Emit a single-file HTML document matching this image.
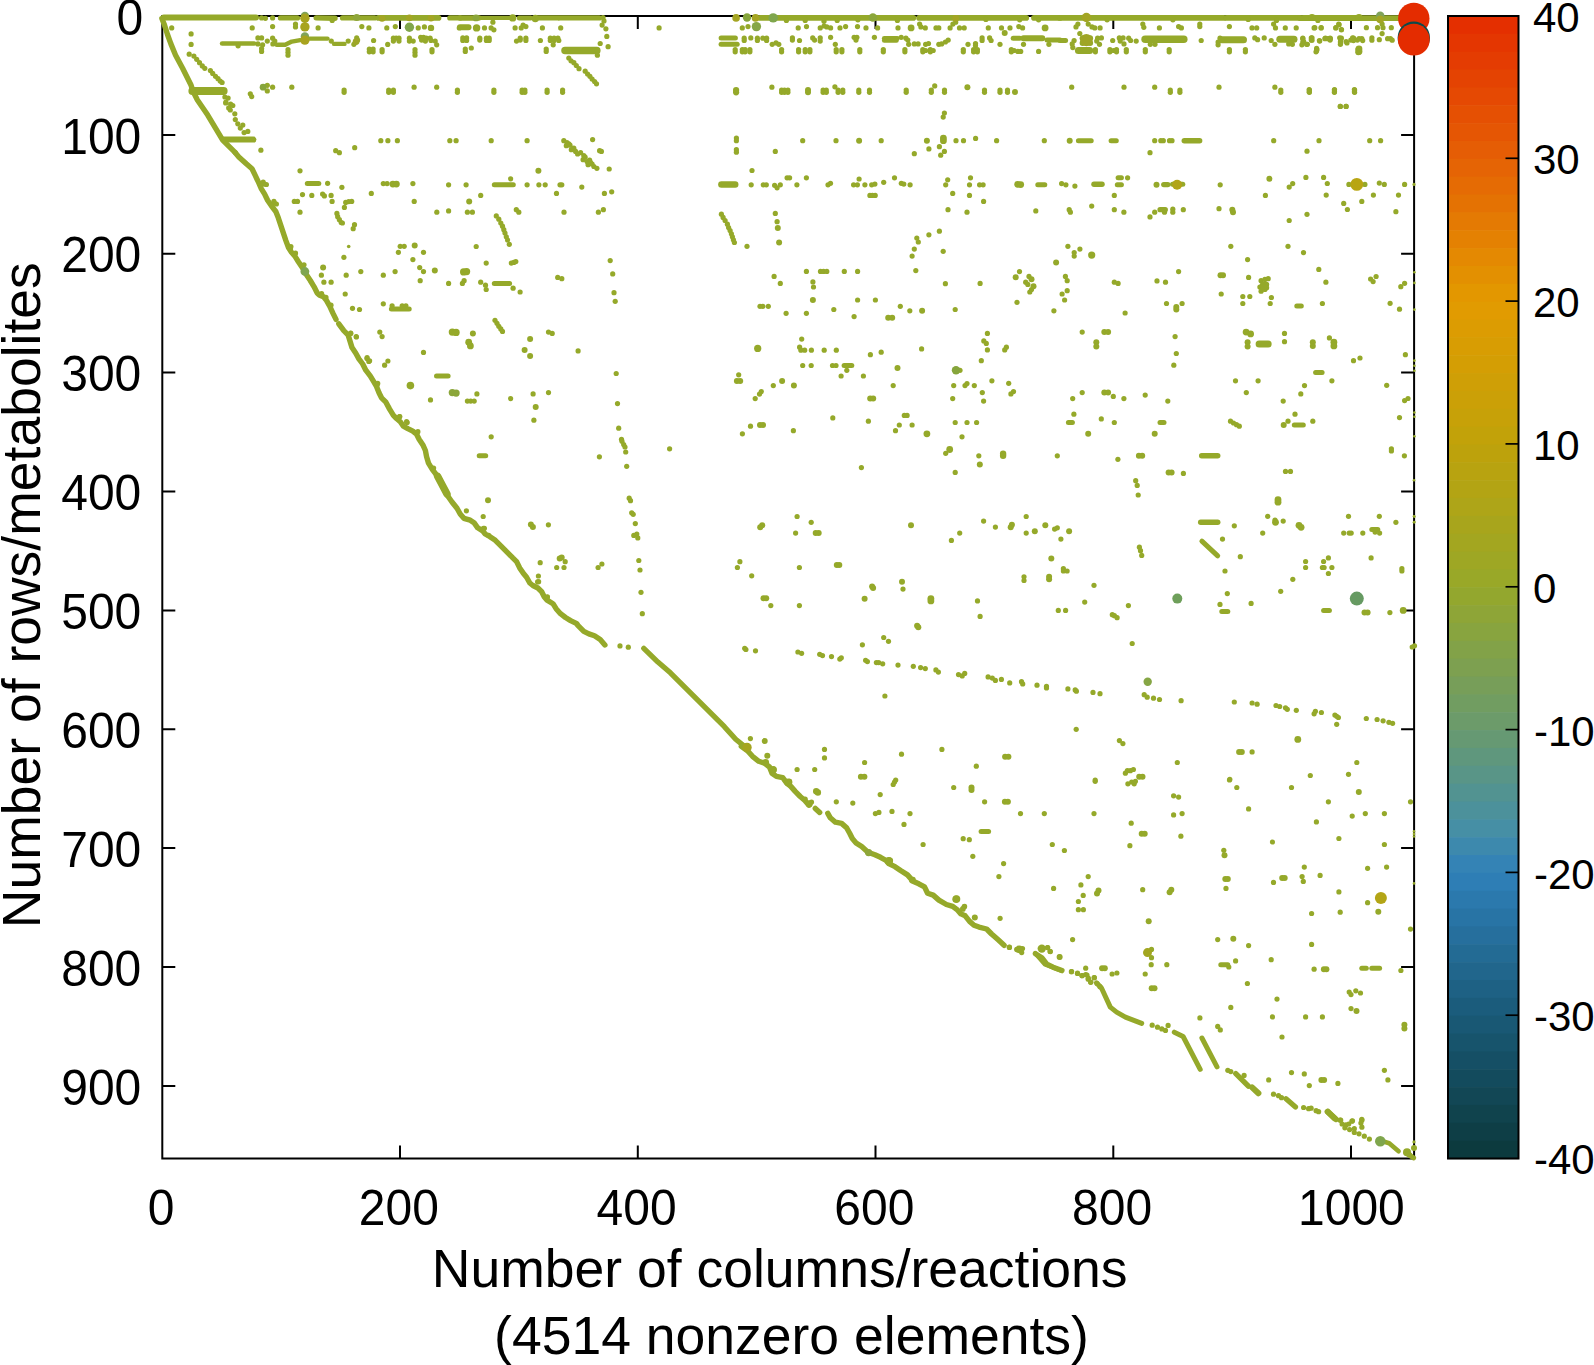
<!DOCTYPE html>
<html><head><meta charset="utf-8"><title>Sparsity pattern</title>
<style>html,body{margin:0;padding:0;background:#fff}svg{display:block}</style>
</head><body>
<svg width="1594" height="1365" viewBox="0 0 1594 1365" font-family="'Liberation Sans', sans-serif" fill="#000">
<rect width="1594" height="1365" fill="#fff"/>
<g stroke="#000" stroke-width="2" fill="none" stroke-linecap="square">
<rect x="162.3" y="16.0" width="1251.8" height="1142.5"/>
</g>
<g stroke="#000" stroke-width="2" fill="none">
<path d="M162.3 134.9h13M1414.1 134.9h-13"/>
<path d="M162.3 253.8h13M1414.1 253.8h-13"/>
<path d="M162.3 372.6h13M1414.1 372.6h-13"/>
<path d="M162.3 491.5h13M1414.1 491.5h-13"/>
<path d="M162.3 610.4h13M1414.1 610.4h-13"/>
<path d="M162.3 729.2h13M1414.1 729.2h-13"/>
<path d="M162.3 848.1h13M1414.1 848.1h-13"/>
<path d="M162.3 967.0h13M1414.1 967.0h-13"/>
<path d="M162.3 1085.9h13M1414.1 1085.9h-13"/>
<path d="M400.0 1158.5v-13M400.0 16.0v13"/>
<path d="M637.8 1158.5v-13M637.8 16.0v13"/>
<path d="M875.5 1158.5v-13M875.5 16.0v13"/>
<path d="M1113.3 1158.5v-13M1113.3 16.0v13"/>
<path d="M1351.0 1158.5v-13M1351.0 16.0v13"/>
</g>
<g font-size="48" text-anchor="end">
<text transform="translate(143.3 34.6) scale(1 1.035)">0</text>
<text transform="translate(141.3 153.5) scale(1 1.035)">100</text>
<text transform="translate(141.3 272.4) scale(1 1.035)">200</text>
<text transform="translate(141.3 391.2) scale(1 1.035)">300</text>
<text transform="translate(141.3 510.1) scale(1 1.035)">400</text>
<text transform="translate(141.3 629.0) scale(1 1.035)">500</text>
<text transform="translate(141.3 747.9) scale(1 1.035)">600</text>
<text transform="translate(141.3 866.7) scale(1 1.035)">700</text>
<text transform="translate(141.3 985.6) scale(1 1.035)">800</text>
<text transform="translate(141.3 1104.5) scale(1 1.035)">900</text>
</g>
<g font-size="48" text-anchor="middle">
<text transform="translate(161.1 1224.6) scale(1 1.035)">0</text>
<text transform="translate(398.8 1224.6) scale(1 1.035)">200</text>
<text transform="translate(636.6 1224.6) scale(1 1.035)">400</text>
<text transform="translate(874.3 1224.6) scale(1 1.035)">600</text>
<text transform="translate(1112.1 1224.6) scale(1 1.035)">800</text>
<text transform="translate(1351.4 1224.6) scale(1 1.035)">1000</text>
</g>
<g font-size="53.5" text-anchor="middle">
<text x="779.7" y="1287">Number of columns/reactions</text>
<text x="791.5" y="1353.5">(4514 nonzero elements)</text>
<text transform="translate(40 595.2) rotate(-90)">Number of rows/metabolites</text>
</g>
<rect x="1448.0" y="16.00" width="70.5" height="18.45" fill="#e42f00"/>
<rect x="1448.0" y="33.85" width="70.5" height="18.45" fill="#e43601"/>
<rect x="1448.0" y="51.70" width="70.5" height="18.45" fill="#e43c02"/>
<rect x="1448.0" y="69.55" width="70.5" height="18.45" fill="#e44302"/>
<rect x="1448.0" y="87.41" width="70.5" height="18.45" fill="#e54903"/>
<rect x="1448.0" y="105.26" width="70.5" height="18.45" fill="#e55003"/>
<rect x="1448.0" y="123.11" width="70.5" height="18.45" fill="#e55604"/>
<rect x="1448.0" y="140.96" width="70.5" height="18.45" fill="#e55d05"/>
<rect x="1448.0" y="158.81" width="70.5" height="18.45" fill="#e56405"/>
<rect x="1448.0" y="176.66" width="70.5" height="18.45" fill="#e56b04"/>
<rect x="1448.0" y="194.52" width="70.5" height="18.45" fill="#e47203"/>
<rect x="1448.0" y="212.37" width="70.5" height="18.45" fill="#e47a03"/>
<rect x="1448.0" y="230.22" width="70.5" height="18.45" fill="#e48102"/>
<rect x="1448.0" y="248.07" width="70.5" height="18.45" fill="#e48902"/>
<rect x="1448.0" y="265.92" width="70.5" height="18.45" fill="#e39001"/>
<rect x="1448.0" y="283.77" width="70.5" height="18.45" fill="#e39700"/>
<rect x="1448.0" y="301.62" width="70.5" height="18.45" fill="#e19b01"/>
<rect x="1448.0" y="319.48" width="70.5" height="18.45" fill="#dc9c02"/>
<rect x="1448.0" y="337.33" width="70.5" height="18.45" fill="#d89d03"/>
<rect x="1448.0" y="355.18" width="70.5" height="18.45" fill="#d49e04"/>
<rect x="1448.0" y="373.03" width="70.5" height="18.45" fill="#cf9f06"/>
<rect x="1448.0" y="390.88" width="70.5" height="18.45" fill="#cba007"/>
<rect x="1448.0" y="408.73" width="70.5" height="18.45" fill="#c7a108"/>
<rect x="1448.0" y="426.59" width="70.5" height="18.45" fill="#c2a209"/>
<rect x="1448.0" y="444.44" width="70.5" height="18.45" fill="#bda20c"/>
<rect x="1448.0" y="462.29" width="70.5" height="18.45" fill="#b8a310"/>
<rect x="1448.0" y="480.14" width="70.5" height="18.45" fill="#b3a414"/>
<rect x="1448.0" y="497.99" width="70.5" height="18.45" fill="#aea518"/>
<rect x="1448.0" y="515.84" width="70.5" height="18.45" fill="#a8a51c"/>
<rect x="1448.0" y="533.70" width="70.5" height="18.45" fill="#a3a620"/>
<rect x="1448.0" y="551.55" width="70.5" height="18.45" fill="#9ea724"/>
<rect x="1448.0" y="569.40" width="70.5" height="18.45" fill="#99a828"/>
<rect x="1448.0" y="587.25" width="70.5" height="18.45" fill="#93a72e"/>
<rect x="1448.0" y="605.10" width="70.5" height="18.45" fill="#8ea537"/>
<rect x="1448.0" y="622.95" width="70.5" height="18.45" fill="#88a43f"/>
<rect x="1448.0" y="640.80" width="70.5" height="18.45" fill="#82a248"/>
<rect x="1448.0" y="658.66" width="70.5" height="18.45" fill="#7da050"/>
<rect x="1448.0" y="676.51" width="70.5" height="18.45" fill="#779e59"/>
<rect x="1448.0" y="694.36" width="70.5" height="18.45" fill="#719d61"/>
<rect x="1448.0" y="712.21" width="70.5" height="18.45" fill="#6c9b6a"/>
<rect x="1448.0" y="730.06" width="70.5" height="18.45" fill="#669973"/>
<rect x="1448.0" y="747.91" width="70.5" height="18.45" fill="#5f977d"/>
<rect x="1448.0" y="765.77" width="70.5" height="18.45" fill="#599587"/>
<rect x="1448.0" y="783.62" width="70.5" height="18.45" fill="#529391"/>
<rect x="1448.0" y="801.47" width="70.5" height="18.45" fill="#4c919b"/>
<rect x="1448.0" y="819.32" width="70.5" height="18.45" fill="#468fa5"/>
<rect x="1448.0" y="837.17" width="70.5" height="18.45" fill="#3d89ad"/>
<rect x="1448.0" y="855.02" width="70.5" height="18.45" fill="#3483b5"/>
<rect x="1448.0" y="872.88" width="70.5" height="18.45" fill="#2e7eb5"/>
<rect x="1448.0" y="890.73" width="70.5" height="18.45" fill="#2b79ad"/>
<rect x="1448.0" y="908.58" width="70.5" height="18.45" fill="#2874a5"/>
<rect x="1448.0" y="926.43" width="70.5" height="18.45" fill="#266f9d"/>
<rect x="1448.0" y="944.28" width="70.5" height="18.45" fill="#236b94"/>
<rect x="1448.0" y="962.13" width="70.5" height="18.45" fill="#21668c"/>
<rect x="1448.0" y="979.98" width="70.5" height="18.45" fill="#1e6184"/>
<rect x="1448.0" y="997.84" width="70.5" height="18.45" fill="#1b5c7c"/>
<rect x="1448.0" y="1015.69" width="70.5" height="18.45" fill="#195874"/>
<rect x="1448.0" y="1033.54" width="70.5" height="18.45" fill="#17546c"/>
<rect x="1448.0" y="1051.39" width="70.5" height="18.45" fill="#154f65"/>
<rect x="1448.0" y="1069.24" width="70.5" height="18.45" fill="#134b5d"/>
<rect x="1448.0" y="1087.09" width="70.5" height="18.45" fill="#124755"/>
<rect x="1448.0" y="1104.95" width="70.5" height="18.45" fill="#10434d"/>
<rect x="1448.0" y="1122.80" width="70.5" height="18.45" fill="#0e3e46"/>
<rect x="1448.0" y="1140.65" width="70.5" height="18.45" fill="#0c3a3e"/>
<rect x="1448.0" y="16.0" width="70.5" height="1142.5" fill="none" stroke="#000" stroke-width="2"/>
<g stroke="#000" stroke-width="1.7">
<path d="M1518.5 158.3h-13"/>
<path d="M1518.5 301.1h-13"/>
<path d="M1518.5 443.9h-13"/>
<path d="M1518.5 586.8h-13"/>
<path d="M1518.5 729.6h-13"/>
<path d="M1518.5 872.4h-13"/>
<path d="M1518.5 1015.2h-13"/>
</g>
<g font-size="42">
<text transform="translate(1533 31.6) scale(1 1.03)">40</text>
<text transform="translate(1533 174.4) scale(1 1.03)">30</text>
<text transform="translate(1533 317.2) scale(1 1.03)">20</text>
<text transform="translate(1533 460.0) scale(1 1.03)">10</text>
<text transform="translate(1533 602.9) scale(1 1.03)">0</text>
<text transform="translate(1534 745.7) scale(1 1.03)">-10</text>
<text transform="translate(1534 888.5) scale(1 1.03)">-20</text>
<text transform="translate(1534 1031.3) scale(1 1.03)">-30</text>
<text transform="translate(1534 1174.1) scale(1 1.03)">-40</text>
</g>
<g id="dots" fill="#95a92a">
<path d="M161.9 18.5L164.5 25.1L167.5 34.5L170.9 43.9L175.6 55.2L182.6 68.3L191.1 85.3L192.9 90.9" fill="none" stroke="#95a92a" stroke-width="5.4" stroke-linecap="round" stroke-linejoin="round"/>
<path d="M163.8 17.5L256.0 17.5" fill="none" stroke="#95a92a" stroke-width="6" stroke-linecap="round" stroke-linejoin="round"/>
<circle cx="261.6" cy="17.9" r="2.6"/>
<circle cx="265.4" cy="18.3" r="2.6"/>
<circle cx="272.6" cy="17.9" r="2.6"/>
<path d="M280.5 17.9L297.4 17.9" fill="none" stroke="#95a92a" stroke-width="5.4" stroke-linecap="round" stroke-linejoin="round"/>
<path d="M316.2 17.9L335.0 18.3" fill="none" stroke="#95a92a" stroke-width="5.4" stroke-linecap="round" stroke-linejoin="round"/>
<circle cx="332.2" cy="20.4" r="2.6"/>
<path d="M342.6 17.9L374.6 17.9" fill="none" stroke="#95a92a" stroke-width="5.4" stroke-linecap="round" stroke-linejoin="round"/>
<path d="M378.3 17.9L438.6 17.9" fill="none" stroke="#95a92a" stroke-width="5.6" stroke-linecap="round" stroke-linejoin="round"/>
<path d="M449.9 17.9L460.0 17.9" fill="none" stroke="#95a92a" stroke-width="5.4" stroke-linecap="round" stroke-linejoin="round"/>
<circle cx="171.7" cy="27.9" r="2.6"/>
<circle cx="252.2" cy="27.9" r="2.6"/>
<circle cx="272.6" cy="26.6" r="2.6"/>
<circle cx="318.1" cy="27.9" r="2.6"/>
<circle cx="361.8" cy="26.6" r="2.6"/>
<circle cx="368.9" cy="27.9" r="2.6"/>
<circle cx="386.8" cy="27.9" r="2.6"/>
<circle cx="395.3" cy="26.6" r="2.6"/>
<circle cx="418.2" cy="27.9" r="2.6"/>
<circle cx="424.4" cy="26.9" r="2.6"/>
<circle cx="459.3" cy="27.9" r="2.6"/>
<circle cx="295.5" cy="24.1" r="2.6"/>
<circle cx="295.5" cy="26.9" r="2.6"/>
<circle cx="305.9" cy="27.9" r="2.6"/>
<circle cx="431.0" cy="27.9" r="3.2"/>
<circle cx="191.1" cy="33.9" r="2.6"/>
<circle cx="191.1" cy="44.4" r="2.6"/>
<circle cx="189.2" cy="54.2" r="2.6"/>
<circle cx="193.9" cy="56.1" r="2.6"/>
<circle cx="196.7" cy="59.3" r="2.6"/>
<circle cx="199.5" cy="62.7" r="2.6"/>
<circle cx="202.3" cy="65.9" r="2.6"/>
<circle cx="204.8" cy="68.3" r="2.6"/>
<circle cx="210.4" cy="70.6" r="2.6"/>
<circle cx="212.7" cy="73.4" r="2.6"/>
<circle cx="215.5" cy="76.3" r="2.6"/>
<circle cx="218.0" cy="78.7" r="2.6"/>
<circle cx="220.2" cy="81.1" r="2.6"/>
<circle cx="222.1" cy="82.5" r="2.6"/>
<path d="M222.1 43.5L254.1 43.5" fill="none" stroke="#95a92a" stroke-width="4.6" stroke-linecap="round" stroke-linejoin="round"/>
<circle cx="238.1" cy="45.8" r="2.6"/>
<circle cx="257.9" cy="37.9" r="2.6"/>
<circle cx="261.6" cy="37.9" r="2.6"/>
<circle cx="257.9" cy="43.9" r="2.6"/>
<circle cx="262.6" cy="44.8" r="2.6"/>
<circle cx="267.3" cy="41.1" r="2.6"/>
<circle cx="272.6" cy="38.2" r="2.6"/>
<circle cx="272.9" cy="43.9" r="2.6"/>
<circle cx="274.8" cy="41.1" r="2.6"/>
<path d="M276.7 44.8L285.2 44.8L291.8 41.6L300.2 40.1" fill="none" stroke="#95a92a" stroke-width="4.4" stroke-linecap="round" stroke-linejoin="round"/>
<path d="M309.6 38.6L327.5 38.6" fill="none" stroke="#95a92a" stroke-width="4.4" stroke-linecap="round" stroke-linejoin="round"/>
<circle cx="331.3" cy="41.1" r="2.6"/>
<circle cx="348.2" cy="41.1" r="2.6"/>
<circle cx="353.9" cy="44.3" r="2.6"/>
<circle cx="356.7" cy="37.9" r="2.6"/>
<circle cx="357.6" cy="40.1" r="2.6"/>
<path d="M334.1 43.9L344.5 43.9" fill="none" stroke="#95a92a" stroke-width="4.4" stroke-linecap="round" stroke-linejoin="round"/>
<circle cx="373.6" cy="40.5" r="2.6"/>
<circle cx="387.7" cy="44.4" r="2.6"/>
<circle cx="393.4" cy="38.2" r="2.6"/>
<circle cx="396.2" cy="38.2" r="2.6"/>
<circle cx="399.0" cy="38.2" r="2.6"/>
<circle cx="393.4" cy="41.1" r="2.6"/>
<circle cx="399.0" cy="41.1" r="2.6"/>
<circle cx="409.4" cy="38.2" r="2.6"/>
<circle cx="409.4" cy="41.1" r="2.6"/>
<circle cx="413.2" cy="41.1" r="2.6"/>
<circle cx="420.7" cy="37.3" r="2.6"/>
<circle cx="423.5" cy="37.3" r="2.6"/>
<circle cx="426.3" cy="38.2" r="2.6"/>
<circle cx="421.6" cy="40.1" r="2.6"/>
<circle cx="425.4" cy="41.1" r="2.6"/>
<circle cx="430.1" cy="38.2" r="2.6"/>
<circle cx="431.0" cy="40.5" r="2.6"/>
<circle cx="435.2" cy="41.1" r="2.6"/>
<circle cx="436.7" cy="44.8" r="2.6"/>
<circle cx="261.6" cy="48.6" r="2.6"/>
<circle cx="261.6" cy="51.4" r="2.6"/>
<circle cx="288.0" cy="49.5" r="2.6"/>
<circle cx="288.0" cy="52.3" r="2.6"/>
<circle cx="288.0" cy="55.2" r="2.6"/>
<circle cx="369.3" cy="49.1" r="2.6"/>
<circle cx="373.1" cy="49.1" r="2.6"/>
<circle cx="369.3" cy="51.8" r="2.6"/>
<circle cx="373.1" cy="51.8" r="2.6"/>
<circle cx="382.1" cy="49.5" r="2.6"/>
<circle cx="382.1" cy="51.8" r="2.6"/>
<circle cx="415.0" cy="49.5" r="2.6"/>
<circle cx="415.0" cy="52.3" r="2.6"/>
<circle cx="415.0" cy="55.2" r="2.6"/>
<circle cx="432.0" cy="49.5" r="2.6"/>
<circle cx="432.0" cy="51.8" r="2.6"/>
<circle cx="250.3" cy="93.8" r="2.6"/>
<circle cx="251.7" cy="96.6" r="2.6"/>
<circle cx="267.3" cy="85.3" r="2.6"/>
<circle cx="267.3" cy="90.9" r="2.6"/>
<circle cx="272.6" cy="87.2" r="2.6"/>
<circle cx="291.8" cy="87.2" r="2.6"/>
<circle cx="344.1" cy="90.0" r="2.6"/>
<circle cx="344.1" cy="92.3" r="2.6"/>
<circle cx="388.7" cy="90.0" r="2.6"/>
<circle cx="388.7" cy="92.3" r="2.6"/>
<circle cx="393.4" cy="90.0" r="2.6"/>
<circle cx="393.4" cy="92.3" r="2.6"/>
<circle cx="414.1" cy="87.2" r="2.6"/>
<circle cx="436.7" cy="87.2" r="2.6"/>
<circle cx="457.4" cy="90.0" r="2.6"/>
<circle cx="457.4" cy="92.3" r="2.6"/>
<path d="M192.4 90.9L223.6 90.9" fill="none" stroke="#95a92a" stroke-width="8" stroke-linecap="round" stroke-linejoin="round"/>
<path d="M460.0 17.9L478.8 17.9" fill="none" stroke="#95a92a" stroke-width="5.5" stroke-linecap="round" stroke-linejoin="round"/>
<path d="M478.8 17.9L510.8 17.9" fill="none" stroke="#95a92a" stroke-width="4.2" stroke-linecap="round" stroke-linejoin="round"/>
<circle cx="492.9" cy="22.2" r="2.6"/>
<circle cx="512.7" cy="17.9" r="3.7"/>
<circle cx="535.3" cy="18.5" r="3.7"/>
<path d="M519.3 17.9L530.6 17.9" fill="none" stroke="#95a92a" stroke-width="5" stroke-linecap="round" stroke-linejoin="round"/>
<path d="M538.1 17.9L557.9 17.9" fill="none" stroke="#95a92a" stroke-width="5.2" stroke-linecap="round" stroke-linejoin="round"/>
<path d="M559.8 17.9L599.3 17.9" fill="none" stroke="#95a92a" stroke-width="5.2" stroke-linecap="round" stroke-linejoin="round"/>
<circle cx="603.0" cy="17.5" r="2.6"/>
<circle cx="604.0" cy="20.9" r="2.6"/>
<circle cx="602.1" cy="25.1" r="2.6"/>
<circle cx="605.9" cy="28.8" r="2.6"/>
<circle cx="606.8" cy="36.4" r="2.6"/>
<circle cx="600.2" cy="43.5" r="2.6"/>
<circle cx="608.1" cy="46.7" r="2.6"/>
<path d="M460.0 27.3L468.5 27.3" fill="none" stroke="#95a92a" stroke-width="6" stroke-linecap="round" stroke-linejoin="round"/>
<circle cx="476.6" cy="27.9" r="3.7"/>
<circle cx="484.5" cy="27.9" r="2.6"/>
<circle cx="491.1" cy="27.9" r="2.6"/>
<circle cx="493.9" cy="29.8" r="2.6"/>
<circle cx="515.1" cy="27.9" r="2.6"/>
<circle cx="521.2" cy="27.9" r="2.6"/>
<circle cx="523.1" cy="25.1" r="2.6"/>
<circle cx="525.9" cy="26.6" r="2.6"/>
<circle cx="542.4" cy="27.9" r="2.6"/>
<circle cx="560.7" cy="27.9" r="2.6"/>
<circle cx="659.1" cy="27.9" r="2.6"/>
<circle cx="462.8" cy="37.9" r="2.6"/>
<circle cx="466.6" cy="37.9" r="2.6"/>
<circle cx="462.8" cy="40.5" r="2.6"/>
<circle cx="466.6" cy="40.5" r="2.6"/>
<circle cx="479.8" cy="38.2" r="2.6"/>
<circle cx="479.8" cy="40.1" r="2.6"/>
<circle cx="486.4" cy="38.2" r="2.6"/>
<circle cx="489.2" cy="38.2" r="2.6"/>
<circle cx="486.4" cy="40.5" r="2.6"/>
<circle cx="489.2" cy="40.5" r="2.6"/>
<circle cx="516.5" cy="41.1" r="2.6"/>
<circle cx="520.2" cy="38.2" r="2.6"/>
<circle cx="520.2" cy="40.1" r="2.6"/>
<circle cx="525.9" cy="38.2" r="2.6"/>
<circle cx="525.9" cy="40.5" r="2.6"/>
<circle cx="540.4" cy="40.5" r="2.6"/>
<circle cx="550.3" cy="38.2" r="2.6"/>
<circle cx="554.1" cy="38.2" r="2.6"/>
<circle cx="557.9" cy="38.2" r="2.6"/>
<circle cx="550.3" cy="40.5" r="2.6"/>
<circle cx="554.1" cy="40.5" r="2.6"/>
<circle cx="558.8" cy="40.5" r="2.6"/>
<circle cx="553.2" cy="44.8" r="2.6"/>
<circle cx="465.3" cy="49.1" r="2.6"/>
<circle cx="465.3" cy="51.4" r="2.6"/>
<circle cx="471.3" cy="48.0" r="2.6"/>
<circle cx="546.2" cy="49.1" r="2.6"/>
<circle cx="546.2" cy="51.4" r="2.6"/>
<path d="M565.0 50.5L596.8 50.5" fill="none" stroke="#95a92a" stroke-width="7.5" stroke-linecap="round" stroke-linejoin="round"/>
<circle cx="597.4" cy="55.2" r="2.6"/>
<circle cx="568.8" cy="58.0" r="2.6"/>
<circle cx="571.0" cy="60.8" r="2.6"/>
<circle cx="573.9" cy="62.7" r="2.6"/>
<circle cx="576.3" cy="65.5" r="2.6"/>
<circle cx="579.0" cy="68.7" r="2.6"/>
<circle cx="585.2" cy="71.2" r="2.6"/>
<circle cx="587.6" cy="74.0" r="2.6"/>
<circle cx="589.9" cy="76.3" r="2.6"/>
<circle cx="592.1" cy="79.1" r="2.6"/>
<circle cx="594.6" cy="81.5" r="2.6"/>
<circle cx="596.5" cy="83.8" r="2.6"/>
<circle cx="493.9" cy="90.0" r="2.6"/>
<circle cx="493.9" cy="92.3" r="2.6"/>
<circle cx="522.1" cy="90.0" r="2.6"/>
<circle cx="524.9" cy="90.0" r="2.6"/>
<circle cx="522.1" cy="92.3" r="2.6"/>
<circle cx="524.9" cy="92.3" r="2.6"/>
<circle cx="547.1" cy="90.0" r="2.6"/>
<circle cx="547.1" cy="92.3" r="2.6"/>
<circle cx="562.6" cy="90.0" r="2.6"/>
<circle cx="562.6" cy="92.3" r="2.6"/>
<circle cx="736.1" cy="90.0" r="3.1"/>
<circle cx="736.1" cy="92.3" r="3.1"/>
<circle cx="742.3" cy="27.9" r="2.6"/>
<circle cx="748.0" cy="26.6" r="2.6"/>
<circle cx="757.4" cy="26.9" r="2.6"/>
<path d="M721.1 37.9L735.4 37.9" fill="none" stroke="#95a92a" stroke-width="5" stroke-linecap="round" stroke-linejoin="round"/>
<path d="M721.1 44.3L737.2 44.3" fill="none" stroke="#95a92a" stroke-width="5" stroke-linecap="round" stroke-linejoin="round"/>
<circle cx="744.2" cy="38.2" r="2.6"/>
<circle cx="744.2" cy="40.5" r="2.6"/>
<circle cx="750.8" cy="37.9" r="2.6"/>
<circle cx="757.4" cy="38.2" r="2.6"/>
<circle cx="757.4" cy="40.5" r="2.6"/>
<circle cx="735.2" cy="49.5" r="2.6"/>
<circle cx="735.2" cy="51.8" r="2.6"/>
<circle cx="742.3" cy="49.5" r="2.6"/>
<circle cx="742.3" cy="51.8" r="2.6"/>
<circle cx="745.1" cy="49.5" r="2.6"/>
<circle cx="745.1" cy="51.8" r="2.6"/>
<circle cx="749.9" cy="49.5" r="2.6"/>
<circle cx="749.9" cy="51.8" r="2.6"/>
<path d="M760.0 17.9L913.4 17.9" fill="none" stroke="#95a92a" stroke-width="5.6" stroke-linecap="round" stroke-linejoin="round"/>
<path d="M919.0 17.9L1026.3 17.9" fill="none" stroke="#95a92a" stroke-width="5.6" stroke-linecap="round" stroke-linejoin="round"/>
<path d="M1033.9 17.9L1060.0 17.9" fill="none" stroke="#95a92a" stroke-width="5.6" stroke-linecap="round" stroke-linejoin="round"/>
<circle cx="786.4" cy="20.4" r="2.6"/>
<circle cx="805.2" cy="20.4" r="2.6"/>
<circle cx="824.0" cy="21.3" r="2.6"/>
<circle cx="837.2" cy="20.4" r="2.6"/>
<circle cx="857.9" cy="19.8" r="2.6"/>
<circle cx="897.4" cy="20.4" r="2.6"/>
<circle cx="985.9" cy="19.4" r="2.6"/>
<circle cx="1019.7" cy="19.8" r="2.6"/>
<circle cx="1038.6" cy="19.8" r="2.6"/>
<circle cx="798.2" cy="27.9" r="2.6"/>
<circle cx="806.5" cy="26.6" r="2.6"/>
<circle cx="820.2" cy="27.9" r="2.6"/>
<circle cx="824.0" cy="26.0" r="2.6"/>
<circle cx="826.8" cy="26.9" r="2.6"/>
<circle cx="830.6" cy="27.9" r="2.6"/>
<circle cx="840.0" cy="27.9" r="2.6"/>
<circle cx="845.6" cy="26.6" r="2.6"/>
<circle cx="857.5" cy="26.6" r="2.6"/>
<circle cx="866.0" cy="27.9" r="2.6"/>
<circle cx="877.6" cy="27.9" r="2.6"/>
<circle cx="898.0" cy="27.9" r="2.6"/>
<circle cx="919.6" cy="24.1" r="2.6"/>
<circle cx="920.9" cy="26.9" r="2.6"/>
<circle cx="925.3" cy="27.9" r="2.6"/>
<circle cx="936.0" cy="27.9" r="2.6"/>
<circle cx="938.8" cy="27.9" r="2.6"/>
<circle cx="950.1" cy="27.9" r="2.6"/>
<circle cx="952.9" cy="24.1" r="2.6"/>
<circle cx="955.7" cy="22.2" r="2.6"/>
<circle cx="959.5" cy="27.9" r="2.6"/>
<circle cx="964.2" cy="27.9" r="2.6"/>
<circle cx="988.3" cy="27.9" r="2.6"/>
<circle cx="1001.5" cy="27.9" r="2.6"/>
<circle cx="1010.0" cy="27.9" r="2.6"/>
<circle cx="1018.8" cy="26.6" r="2.6"/>
<circle cx="1022.6" cy="27.9" r="2.6"/>
<circle cx="911.1" cy="27.9" r="3.4"/>
<circle cx="1045.1" cy="27.9" r="3.4"/>
<circle cx="1004.7" cy="33.0" r="3"/>
<circle cx="762.8" cy="38.2" r="2.6"/>
<circle cx="766.6" cy="38.2" r="2.6"/>
<circle cx="766.6" cy="40.5" r="2.6"/>
<circle cx="772.2" cy="44.3" r="2.6"/>
<circle cx="776.0" cy="42.9" r="2.6"/>
<circle cx="778.8" cy="44.3" r="2.6"/>
<circle cx="781.6" cy="49.5" r="2.6"/>
<circle cx="781.6" cy="51.8" r="2.6"/>
<circle cx="792.4" cy="37.9" r="2.6"/>
<circle cx="792.4" cy="40.1" r="2.6"/>
<circle cx="799.5" cy="40.5" r="2.6"/>
<circle cx="812.7" cy="37.9" r="2.6"/>
<circle cx="814.6" cy="40.1" r="2.6"/>
<circle cx="820.2" cy="37.9" r="2.6"/>
<circle cx="820.2" cy="41.1" r="2.6"/>
<circle cx="830.6" cy="37.3" r="2.6"/>
<circle cx="835.3" cy="44.3" r="2.6"/>
<circle cx="854.1" cy="37.3" r="2.6"/>
<circle cx="856.9" cy="37.3" r="2.6"/>
<circle cx="856.0" cy="40.1" r="2.6"/>
<circle cx="874.4" cy="37.3" r="2.6"/>
<path d="M884.2 38.2L897.4 38.2" fill="none" stroke="#95a92a" stroke-width="4.6" stroke-linecap="round" stroke-linejoin="round"/>
<path d="M884.2 40.5L896.5 40.5" fill="none" stroke="#95a92a" stroke-width="4.6" stroke-linecap="round" stroke-linejoin="round"/>
<circle cx="901.2" cy="37.3" r="2.6"/>
<circle cx="905.9" cy="38.2" r="2.6"/>
<circle cx="907.8" cy="40.1" r="2.6"/>
<circle cx="908.7" cy="44.3" r="2.6"/>
<circle cx="914.3" cy="43.9" r="2.6"/>
<circle cx="918.1" cy="43.9" r="2.6"/>
<circle cx="925.6" cy="44.3" r="2.6"/>
<circle cx="928.5" cy="43.5" r="2.6"/>
<circle cx="938.8" cy="44.3" r="2.6"/>
<circle cx="941.6" cy="43.9" r="2.6"/>
<circle cx="945.4" cy="42.0" r="2.6"/>
<circle cx="948.2" cy="40.1" r="2.6"/>
<circle cx="968.0" cy="44.3" r="2.6"/>
<circle cx="975.5" cy="43.5" r="2.6"/>
<circle cx="975.5" cy="45.4" r="2.6"/>
<circle cx="982.1" cy="37.9" r="2.6"/>
<circle cx="982.1" cy="40.5" r="2.6"/>
<circle cx="989.6" cy="37.9" r="2.6"/>
<circle cx="991.1" cy="40.5" r="2.6"/>
<circle cx="1000.0" cy="44.3" r="2.6"/>
<circle cx="1023.5" cy="44.3" r="2.6"/>
<circle cx="1048.9" cy="44.3" r="2.6"/>
<path d="M1013.2 38.2L1019.7 38.2" fill="none" stroke="#95a92a" stroke-width="5" stroke-linecap="round" stroke-linejoin="round"/>
<path d="M1023.5 38.2L1042.3 38.2" fill="none" stroke="#95a92a" stroke-width="6" stroke-linecap="round" stroke-linejoin="round"/>
<path d="M1047.0 40.1L1060.0 40.1" fill="none" stroke="#95a92a" stroke-width="5" stroke-linecap="round" stroke-linejoin="round"/>
<circle cx="798.6" cy="49.5" r="2.6"/>
<circle cx="798.6" cy="51.8" r="2.6"/>
<circle cx="805.2" cy="49.5" r="2.6"/>
<circle cx="805.2" cy="51.8" r="2.6"/>
<circle cx="809.9" cy="49.5" r="2.6"/>
<circle cx="809.9" cy="51.8" r="2.6"/>
<circle cx="836.2" cy="49.5" r="2.6"/>
<circle cx="836.2" cy="51.8" r="2.6"/>
<circle cx="841.9" cy="49.5" r="2.6"/>
<circle cx="841.9" cy="51.8" r="2.6"/>
<circle cx="859.8" cy="49.5" r="2.6"/>
<circle cx="859.8" cy="51.8" r="2.6"/>
<circle cx="883.3" cy="49.5" r="2.6"/>
<circle cx="883.3" cy="51.8" r="2.6"/>
<circle cx="904.9" cy="49.5" r="2.6"/>
<circle cx="904.9" cy="51.8" r="2.6"/>
<circle cx="922.8" cy="49.5" r="2.6"/>
<circle cx="922.8" cy="51.8" r="2.6"/>
<circle cx="925.6" cy="50.5" r="2.6"/>
<circle cx="930.3" cy="49.5" r="2.6"/>
<circle cx="930.3" cy="51.8" r="2.6"/>
<circle cx="933.2" cy="50.5" r="2.6"/>
<circle cx="963.3" cy="49.5" r="2.6"/>
<circle cx="963.3" cy="51.8" r="2.6"/>
<circle cx="973.6" cy="49.5" r="2.6"/>
<circle cx="973.6" cy="51.8" r="2.6"/>
<circle cx="977.4" cy="49.5" r="2.6"/>
<circle cx="977.4" cy="51.8" r="2.6"/>
<circle cx="1011.3" cy="49.5" r="2.6"/>
<circle cx="1014.1" cy="50.5" r="2.6"/>
<circle cx="1011.3" cy="51.8" r="2.6"/>
<circle cx="1017.9" cy="51.4" r="2.6"/>
<circle cx="1020.7" cy="51.4" r="2.6"/>
<circle cx="1038.6" cy="51.4" r="2.6"/>
<circle cx="771.9" cy="87.2" r="2.6"/>
<circle cx="781.6" cy="90.0" r="2.6"/>
<circle cx="781.6" cy="92.3" r="2.6"/>
<circle cx="784.5" cy="90.0" r="2.6"/>
<circle cx="784.5" cy="92.3" r="2.6"/>
<circle cx="787.9" cy="90.0" r="2.6"/>
<circle cx="787.9" cy="92.3" r="2.6"/>
<circle cx="823.1" cy="90.0" r="2.6"/>
<circle cx="826.3" cy="90.0" r="2.6"/>
<circle cx="823.1" cy="92.3" r="2.6"/>
<circle cx="826.3" cy="92.3" r="2.6"/>
<circle cx="834.9" cy="86.8" r="2.6"/>
<circle cx="838.1" cy="90.0" r="2.6"/>
<circle cx="838.1" cy="92.3" r="2.6"/>
<circle cx="842.8" cy="90.0" r="2.6"/>
<circle cx="842.8" cy="92.3" r="2.6"/>
<circle cx="858.8" cy="90.0" r="2.6"/>
<circle cx="858.8" cy="92.3" r="2.6"/>
<circle cx="869.5" cy="90.0" r="2.6"/>
<circle cx="869.5" cy="92.3" r="2.6"/>
<circle cx="906.2" cy="90.0" r="2.6"/>
<circle cx="906.2" cy="92.3" r="2.6"/>
<circle cx="931.3" cy="90.0" r="2.6"/>
<circle cx="931.3" cy="92.3" r="2.6"/>
<circle cx="934.7" cy="85.9" r="2.6"/>
<circle cx="944.5" cy="90.0" r="2.6"/>
<circle cx="944.5" cy="92.3" r="2.6"/>
<circle cx="984.5" cy="90.0" r="2.6"/>
<circle cx="984.5" cy="92.3" r="2.6"/>
<circle cx="1000.0" cy="90.0" r="2.6"/>
<circle cx="1000.0" cy="92.3" r="2.6"/>
<circle cx="1007.5" cy="90.0" r="2.6"/>
<circle cx="1007.5" cy="92.3" r="2.6"/>
<circle cx="808.0" cy="90.0" r="3"/>
<circle cx="808.0" cy="92.3" r="3"/>
<circle cx="967.4" cy="87.2" r="3"/>
<circle cx="1015.0" cy="91.9" r="3"/>
<path d="M1060.0 17.9L1223.7 17.9" fill="none" stroke="#95a92a" stroke-width="5.8" stroke-linecap="round" stroke-linejoin="round"/>
<path d="M1226.6 17.9L1300.0 17.9" fill="none" stroke="#95a92a" stroke-width="5.8" stroke-linecap="round" stroke-linejoin="round"/>
<path d="M1303.7 17.9L1360.0 17.9" fill="none" stroke="#95a92a" stroke-width="5.8" stroke-linecap="round" stroke-linejoin="round"/>
<circle cx="1107.1" cy="19.8" r="2.6"/>
<circle cx="1172.9" cy="19.8" r="2.6"/>
<circle cx="1248.2" cy="19.4" r="2.6"/>
<circle cx="1276.5" cy="20.4" r="2.6"/>
<circle cx="1317.9" cy="20.4" r="2.6"/>
<circle cx="1076.0" cy="26.9" r="2.6"/>
<circle cx="1077.9" cy="24.1" r="2.6"/>
<circle cx="1088.2" cy="24.1" r="2.6"/>
<circle cx="1092.0" cy="26.9" r="2.6"/>
<circle cx="1094.8" cy="27.9" r="2.6"/>
<circle cx="1100.1" cy="27.9" r="2.6"/>
<circle cx="1142.8" cy="24.1" r="2.6"/>
<circle cx="1143.8" cy="27.3" r="2.6"/>
<circle cx="1159.4" cy="27.9" r="2.6"/>
<circle cx="1178.6" cy="26.6" r="2.6"/>
<circle cx="1181.4" cy="27.9" r="2.6"/>
<circle cx="1199.8" cy="24.1" r="2.6"/>
<circle cx="1199.8" cy="26.6" r="2.6"/>
<circle cx="1229.4" cy="26.6" r="2.6"/>
<circle cx="1252.0" cy="27.9" r="2.6"/>
<circle cx="1256.7" cy="27.9" r="2.6"/>
<circle cx="1273.6" cy="24.1" r="2.6"/>
<circle cx="1275.5" cy="27.9" r="2.6"/>
<circle cx="1285.3" cy="27.9" r="2.6"/>
<circle cx="1296.2" cy="27.9" r="2.6"/>
<circle cx="1314.1" cy="27.9" r="2.6"/>
<circle cx="1321.1" cy="27.9" r="2.6"/>
<circle cx="1335.7" cy="27.9" r="2.6"/>
<circle cx="1339.1" cy="24.7" r="2.6"/>
<circle cx="1341.4" cy="29.8" r="2.6"/>
<path d="M1060.0 40.5L1065.6 40.5" fill="none" stroke="#95a92a" stroke-width="5" stroke-linecap="round" stroke-linejoin="round"/>
<circle cx="1074.1" cy="40.5" r="2.6"/>
<circle cx="1072.2" cy="43.9" r="2.6"/>
<circle cx="1072.8" cy="47.6" r="2.6"/>
<circle cx="1079.8" cy="33.5" r="2.6"/>
<circle cx="1095.4" cy="49.5" r="2.6"/>
<circle cx="1095.4" cy="51.8" r="2.6"/>
<circle cx="1097.6" cy="38.2" r="2.6"/>
<circle cx="1101.4" cy="37.9" r="2.6"/>
<circle cx="1096.7" cy="41.1" r="2.6"/>
<circle cx="1099.5" cy="44.3" r="2.6"/>
<circle cx="1112.7" cy="40.5" r="2.6"/>
<circle cx="1119.3" cy="37.9" r="2.6"/>
<circle cx="1123.1" cy="37.9" r="2.6"/>
<circle cx="1120.2" cy="41.1" r="2.6"/>
<circle cx="1124.0" cy="43.9" r="2.6"/>
<circle cx="1128.7" cy="38.2" r="2.6"/>
<circle cx="1130.6" cy="40.5" r="2.6"/>
<circle cx="1136.2" cy="41.1" r="2.6"/>
<circle cx="1150.3" cy="44.3" r="2.6"/>
<circle cx="1155.0" cy="44.3" r="2.6"/>
<circle cx="1201.2" cy="40.5" r="2.6"/>
<circle cx="1220.0" cy="38.2" r="2.6"/>
<circle cx="1218.1" cy="42.0" r="2.6"/>
<circle cx="1218.1" cy="44.8" r="2.6"/>
<circle cx="1082.6" cy="38.2" r="3"/>
<circle cx="1090.1" cy="38.2" r="3"/>
<circle cx="1082.6" cy="42.9" r="3"/>
<circle cx="1090.1" cy="42.9" r="3"/>
<path d="M1078.4 50.5L1089.7 50.5" fill="none" stroke="#95a92a" stroke-width="7" stroke-linecap="round" stroke-linejoin="round"/>
<path d="M1145.1 39.2L1183.8 39.2" fill="none" stroke="#95a92a" stroke-width="7.5" stroke-linecap="round" stroke-linejoin="round"/>
<path d="M1221.9 39.7L1243.5 39.7" fill="none" stroke="#95a92a" stroke-width="7" stroke-linecap="round" stroke-linejoin="round"/>
<circle cx="1254.8" cy="37.9" r="2.6"/>
<circle cx="1257.6" cy="39.7" r="2.6"/>
<circle cx="1264.2" cy="37.9" r="2.6"/>
<circle cx="1271.2" cy="40.5" r="2.6"/>
<circle cx="1274.9" cy="44.3" r="2.6"/>
<circle cx="1288.7" cy="43.9" r="2.6"/>
<circle cx="1292.4" cy="44.3" r="2.6"/>
<circle cx="1302.8" cy="38.2" r="2.6"/>
<circle cx="1302.8" cy="42.0" r="2.6"/>
<circle cx="1301.9" cy="44.8" r="2.6"/>
<circle cx="1306.6" cy="44.3" r="2.6"/>
<circle cx="1311.3" cy="37.9" r="2.6"/>
<circle cx="1311.3" cy="40.1" r="2.6"/>
<circle cx="1319.7" cy="41.1" r="2.6"/>
<circle cx="1325.4" cy="38.2" r="2.6"/>
<circle cx="1330.1" cy="38.2" r="2.6"/>
<circle cx="1330.1" cy="40.1" r="2.6"/>
<circle cx="1341.4" cy="38.2" r="2.6"/>
<circle cx="1340.4" cy="42.0" r="2.6"/>
<circle cx="1340.4" cy="44.3" r="2.6"/>
<circle cx="1347.0" cy="42.9" r="2.6"/>
<circle cx="1350.8" cy="40.1" r="2.6"/>
<circle cx="1353.6" cy="38.2" r="2.6"/>
<circle cx="1357.4" cy="40.1" r="2.6"/>
<path d="M1279.8 39.2L1294.0 39.2" fill="none" stroke="#95a92a" stroke-width="7" stroke-linecap="round" stroke-linejoin="round"/>
<circle cx="1109.9" cy="49.5" r="2.6"/>
<circle cx="1109.9" cy="51.8" r="2.6"/>
<circle cx="1113.6" cy="50.5" r="2.6"/>
<circle cx="1116.5" cy="49.5" r="2.6"/>
<circle cx="1116.5" cy="51.8" r="2.6"/>
<circle cx="1126.3" cy="49.5" r="2.6"/>
<circle cx="1126.3" cy="51.8" r="2.6"/>
<circle cx="1145.3" cy="49.5" r="2.6"/>
<circle cx="1145.3" cy="51.8" r="2.6"/>
<circle cx="1169.2" cy="49.5" r="2.6"/>
<circle cx="1169.2" cy="51.8" r="2.6"/>
<circle cx="1229.4" cy="49.5" r="2.6"/>
<circle cx="1229.4" cy="51.8" r="2.6"/>
<circle cx="1245.4" cy="49.5" r="2.6"/>
<circle cx="1245.4" cy="51.8" r="2.6"/>
<circle cx="1316.9" cy="49.5" r="2.6"/>
<circle cx="1316.0" cy="51.8" r="2.6"/>
<circle cx="1358.3" cy="49.5" r="3"/>
<circle cx="1358.3" cy="52.3" r="3"/>
<circle cx="1071.7" cy="87.2" r="2.6"/>
<circle cx="1124.0" cy="87.2" r="2.6"/>
<circle cx="1154.7" cy="87.2" r="2.6"/>
<circle cx="1170.3" cy="90.0" r="2.6"/>
<circle cx="1170.3" cy="92.3" r="2.6"/>
<circle cx="1179.9" cy="90.0" r="2.6"/>
<circle cx="1179.9" cy="92.3" r="2.6"/>
<circle cx="1219.0" cy="87.2" r="2.6"/>
<circle cx="1274.9" cy="87.2" r="2.6"/>
<circle cx="1280.8" cy="90.0" r="2.6"/>
<circle cx="1280.8" cy="92.3" r="2.6"/>
<circle cx="1309.4" cy="90.0" r="2.6"/>
<circle cx="1309.4" cy="92.3" r="2.6"/>
<circle cx="1334.4" cy="90.0" r="2.6"/>
<circle cx="1334.4" cy="92.3" r="2.6"/>
<circle cx="1354.6" cy="90.0" r="2.6"/>
<circle cx="1354.6" cy="92.3" r="2.6"/>
<circle cx="1340.4" cy="106.4" r="2.6"/>
<circle cx="1346.1" cy="106.4" r="2.6"/>
<path d="M1300.0 18.1L1400.5 18.1" fill="none" stroke="#95a92a" stroke-width="5.8" stroke-linecap="round" stroke-linejoin="round"/>
<circle cx="1312.0" cy="17.5" r="3.4"/>
<circle cx="1359.0" cy="17.5" r="3.4"/>
<circle cx="1314.8" cy="27.7" r="2.6"/>
<circle cx="1321.2" cy="27.7" r="2.6"/>
<circle cx="1336.0" cy="27.7" r="2.6"/>
<circle cx="1338.7" cy="24.0" r="2.6"/>
<circle cx="1341.5" cy="29.5" r="2.6"/>
<circle cx="1366.4" cy="27.7" r="2.6"/>
<circle cx="1377.5" cy="27.7" r="2.6"/>
<circle cx="1382.1" cy="24.0" r="2.6"/>
<circle cx="1383.0" cy="27.7" r="2.6"/>
<circle cx="1391.3" cy="27.7" r="2.6"/>
<circle cx="1382.1" cy="33.6" r="2.6"/>
<circle cx="1302.8" cy="38.7" r="2.6"/>
<circle cx="1303.7" cy="41.5" r="2.6"/>
<circle cx="1307.4" cy="44.3" r="2.6"/>
<circle cx="1312.0" cy="37.8" r="2.6"/>
<circle cx="1312.0" cy="40.2" r="2.6"/>
<circle cx="1319.4" cy="40.6" r="2.6"/>
<circle cx="1324.9" cy="38.7" r="2.6"/>
<circle cx="1327.7" cy="38.7" r="2.6"/>
<circle cx="1330.4" cy="38.7" r="2.6"/>
<circle cx="1339.7" cy="37.8" r="2.6"/>
<circle cx="1340.6" cy="40.6" r="2.6"/>
<circle cx="1340.6" cy="43.3" r="2.6"/>
<circle cx="1346.1" cy="41.5" r="2.6"/>
<circle cx="1352.6" cy="37.8" r="2.6"/>
<circle cx="1353.5" cy="40.6" r="2.6"/>
<circle cx="1359.0" cy="38.7" r="2.6"/>
<circle cx="1361.8" cy="38.7" r="2.6"/>
<circle cx="1362.7" cy="40.6" r="2.6"/>
<circle cx="1371.9" cy="37.8" r="2.6"/>
<circle cx="1371.9" cy="40.2" r="2.6"/>
<circle cx="1379.3" cy="39.7" r="2.6"/>
<circle cx="1387.6" cy="38.7" r="2.6"/>
<circle cx="1390.4" cy="38.7" r="2.6"/>
<circle cx="1392.2" cy="40.2" r="2.6"/>
<circle cx="1316.6" cy="48.3" r="2.6"/>
<circle cx="1316.6" cy="50.7" r="2.6"/>
<circle cx="1359.0" cy="48.9" r="3.4"/>
<circle cx="1359.0" cy="51.6" r="3.4"/>
<circle cx="1309.2" cy="89.5" r="2.6"/>
<circle cx="1309.2" cy="91.8" r="2.6"/>
<circle cx="1334.5" cy="89.5" r="2.6"/>
<circle cx="1334.5" cy="91.8" r="2.6"/>
<circle cx="1354.4" cy="89.5" r="2.6"/>
<circle cx="1354.4" cy="91.8" r="2.6"/>
<circle cx="1340.2" cy="106.4" r="2.6"/>
<circle cx="1346.1" cy="106.4" r="2.6"/>
<circle cx="1319.0" cy="140.7" r="2.6"/>
<circle cx="1369.7" cy="140.7" r="2.6"/>
<circle cx="1380.6" cy="140.7" r="2.6"/>
<circle cx="1307.0" cy="151.2" r="2.6"/>
<circle cx="1305.9" cy="177.4" r="2.6"/>
<circle cx="1323.6" cy="177.4" r="2.6"/>
<circle cx="1327.3" cy="183.5" r="2.6"/>
<circle cx="1348.9" cy="184.4" r="2.6"/>
<circle cx="1364.9" cy="184.4" r="2.6"/>
<circle cx="1379.3" cy="183.1" r="2.6"/>
<circle cx="1384.3" cy="184.4" r="2.6"/>
<circle cx="1404.6" cy="184.4" r="2.6"/>
<circle cx="1326.2" cy="195.1" r="2.6"/>
<circle cx="1373.4" cy="195.1" r="2.6"/>
<circle cx="1398.5" cy="195.1" r="2.6"/>
<circle cx="1343.7" cy="203.4" r="2.6"/>
<circle cx="1361.8" cy="201.4" r="2.6"/>
<circle cx="1347.4" cy="209.5" r="2.6"/>
<circle cx="1395.9" cy="211.7" r="2.6"/>
<circle cx="1307.0" cy="214.3" r="2.6"/>
<circle cx="1414.0" cy="184.4" r="1.6"/>
<circle cx="224.9" cy="97.0" r="2.6"/>
<circle cx="228.1" cy="98.1" r="2.6"/>
<circle cx="225.9" cy="102.2" r="2.6"/>
<circle cx="230.6" cy="104.1" r="2.6"/>
<circle cx="228.7" cy="107.9" r="2.6"/>
<path d="M192.9 91.0L197.4 100.0L207.7 115.1L222.7 140.2L235.3 152.7" fill="none" stroke="#95a92a" stroke-width="5.4" stroke-linecap="round" stroke-linejoin="round"/>
<circle cx="264.1" cy="184.1" r="2.6"/>
<circle cx="274.2" cy="202.9" r="2.6"/>
<circle cx="290.5" cy="248.1" r="2.6"/>
<circle cx="295.5" cy="253.1" r="2.6"/>
<circle cx="320.6" cy="294.5" r="2.6"/>
<circle cx="330.6" cy="305.8" r="2.6"/>
<circle cx="350.7" cy="333.4" r="2.6"/>
<circle cx="367.0" cy="358.5" r="2.6"/>
<circle cx="368.8" cy="361.5" r="2.6"/>
<circle cx="377.1" cy="384.8" r="2.6"/>
<circle cx="399.6" cy="416.7" r="2.6"/>
<circle cx="407.2" cy="422.5" r="2.6"/>
<circle cx="416.5" cy="432.5" r="2.6"/>
<circle cx="225.7" cy="103.0" r="2.6"/>
<circle cx="232.8" cy="105.5" r="2.6"/>
<circle cx="230.3" cy="110.0" r="2.6"/>
<circle cx="234.8" cy="113.8" r="2.6"/>
<circle cx="235.3" cy="119.6" r="2.6"/>
<circle cx="237.8" cy="123.8" r="2.6"/>
<circle cx="242.8" cy="125.1" r="2.6"/>
<circle cx="240.3" cy="128.1" r="2.6"/>
<circle cx="247.8" cy="131.4" r="2.6"/>
<circle cx="244.1" cy="132.6" r="2.6"/>
<path d="M224.0 139.6L253.4 139.6" fill="none" stroke="#95a92a" stroke-width="6" stroke-linecap="round" stroke-linejoin="round"/>
<circle cx="260.9" cy="150.2" r="2.6"/>
<circle cx="380.8" cy="140.7" r="2.6"/>
<circle cx="387.9" cy="140.7" r="2.6"/>
<circle cx="397.4" cy="140.7" r="2.6"/>
<circle cx="449.8" cy="140.7" r="2.6"/>
<circle cx="456.1" cy="140.7" r="2.6"/>
<circle cx="491.2" cy="140.7" r="2.6"/>
<circle cx="527.1" cy="140.7" r="2.6"/>
<circle cx="335.7" cy="150.7" r="2.6"/>
<circle cx="339.4" cy="152.7" r="2.6"/>
<circle cx="354.7" cy="147.7" r="2.6"/>
<circle cx="300.0" cy="170.8" r="2.6"/>
<circle cx="538.4" cy="170.8" r="3"/>
<path d="M307.3 183.6L318.8 183.6" fill="none" stroke="#95a92a" stroke-width="5" stroke-linecap="round" stroke-linejoin="round"/>
<path d="M494.3 184.8L513.3 184.8" fill="none" stroke="#95a92a" stroke-width="5" stroke-linecap="round" stroke-linejoin="round"/>
<circle cx="327.6" cy="183.3" r="2.6"/>
<circle cx="341.9" cy="187.3" r="2.6"/>
<circle cx="383.3" cy="183.6" r="2.6"/>
<circle cx="387.1" cy="183.6" r="2.6"/>
<circle cx="412.9" cy="183.6" r="2.6"/>
<circle cx="448.6" cy="184.8" r="2.6"/>
<circle cx="466.1" cy="184.8" r="2.6"/>
<circle cx="510.6" cy="178.8" r="2.6"/>
<circle cx="527.1" cy="184.8" r="2.6"/>
<circle cx="538.9" cy="184.8" r="2.6"/>
<circle cx="545.2" cy="184.8" r="2.6"/>
<circle cx="560.0" cy="184.8" r="2.6"/>
<circle cx="392.9" cy="184.1" r="3.4"/>
<circle cx="396.4" cy="184.1" r="3.4"/>
<circle cx="302.5" cy="194.6" r="2.6"/>
<circle cx="311.8" cy="195.4" r="2.6"/>
<circle cx="322.6" cy="194.1" r="2.6"/>
<circle cx="324.4" cy="195.9" r="2.6"/>
<circle cx="331.1" cy="195.4" r="2.6"/>
<circle cx="332.1" cy="201.4" r="2.6"/>
<circle cx="294.3" cy="201.4" r="2.6"/>
<circle cx="297.5" cy="201.4" r="2.6"/>
<circle cx="300.0" cy="212.2" r="2.6"/>
<circle cx="371.3" cy="193.4" r="2.6"/>
<circle cx="414.2" cy="201.4" r="2.6"/>
<circle cx="480.7" cy="195.4" r="2.6"/>
<circle cx="556.5" cy="193.4" r="2.6"/>
<circle cx="469.2" cy="201.4" r="3"/>
<circle cx="345.7" cy="202.4" r="2.6"/>
<circle cx="348.7" cy="201.6" r="2.6"/>
<circle cx="351.7" cy="201.4" r="2.6"/>
<circle cx="344.4" cy="207.4" r="2.6"/>
<circle cx="336.9" cy="213.4" r="2.6"/>
<circle cx="337.7" cy="216.7" r="2.6"/>
<circle cx="339.4" cy="219.7" r="2.6"/>
<circle cx="341.2" cy="222.5" r="2.6"/>
<circle cx="342.4" cy="223.0" r="2.6"/>
<circle cx="354.5" cy="224.7" r="2.6"/>
<circle cx="353.2" cy="228.7" r="2.6"/>
<circle cx="436.8" cy="212.2" r="2.6"/>
<circle cx="448.6" cy="210.9" r="2.6"/>
<circle cx="467.4" cy="212.2" r="2.6"/>
<circle cx="472.4" cy="212.2" r="2.6"/>
<circle cx="516.3" cy="209.7" r="2.6"/>
<circle cx="518.8" cy="212.2" r="2.6"/>
<circle cx="496.3" cy="215.9" r="2.6"/>
<circle cx="498.8" cy="219.2" r="2.6"/>
<circle cx="500.8" cy="223.0" r="2.6"/>
<circle cx="502.5" cy="226.2" r="2.6"/>
<circle cx="503.8" cy="229.7" r="2.6"/>
<circle cx="505.0" cy="233.0" r="2.6"/>
<circle cx="506.3" cy="236.8" r="2.6"/>
<circle cx="507.6" cy="240.0" r="2.6"/>
<circle cx="509.3" cy="244.3" r="2.6"/>
<circle cx="348.7" cy="246.5" r="1.8"/>
<circle cx="343.9" cy="257.3" r="2.6"/>
<circle cx="400.2" cy="246.3" r="2.6"/>
<circle cx="404.2" cy="246.3" r="2.6"/>
<circle cx="398.4" cy="252.3" r="2.6"/>
<circle cx="423.5" cy="252.3" r="2.6"/>
<circle cx="412.9" cy="259.6" r="2.6"/>
<circle cx="419.7" cy="267.6" r="2.6"/>
<circle cx="423.5" cy="271.6" r="2.6"/>
<circle cx="420.2" cy="280.7" r="2.6"/>
<circle cx="476.2" cy="246.5" r="2.6"/>
<circle cx="486.2" cy="263.1" r="2.6"/>
<circle cx="511.3" cy="263.1" r="2.6"/>
<circle cx="513.8" cy="262.4" r="2.6"/>
<circle cx="515.8" cy="261.6" r="2.6"/>
<circle cx="414.7" cy="245.5" r="3"/>
<circle cx="434.8" cy="270.6" r="3"/>
<circle cx="323.1" cy="267.6" r="3"/>
<circle cx="321.4" cy="275.2" r="2.6"/>
<circle cx="323.9" cy="282.2" r="2.6"/>
<circle cx="331.1" cy="282.2" r="2.6"/>
<circle cx="346.2" cy="275.2" r="2.6"/>
<circle cx="360.8" cy="271.6" r="2.6"/>
<circle cx="383.3" cy="275.2" r="2.6"/>
<circle cx="395.1" cy="271.6" r="2.6"/>
<circle cx="448.6" cy="283.4" r="2.6"/>
<circle cx="462.4" cy="283.4" r="2.6"/>
<circle cx="464.1" cy="280.7" r="2.6"/>
<circle cx="480.7" cy="282.2" r="2.6"/>
<circle cx="485.5" cy="285.2" r="2.6"/>
<circle cx="486.2" cy="289.5" r="2.6"/>
<circle cx="513.1" cy="288.2" r="2.6"/>
<circle cx="520.1" cy="292.0" r="2.6"/>
<circle cx="557.7" cy="277.4" r="2.6"/>
<circle cx="463.6" cy="271.9" r="3.6"/>
<circle cx="466.6" cy="271.6" r="3.6"/>
<path d="M494.3 283.4L509.6 283.4" fill="none" stroke="#95a92a" stroke-width="5" stroke-linecap="round" stroke-linejoin="round"/>
<circle cx="345.2" cy="294.0" r="2.6"/>
<circle cx="352.5" cy="308.3" r="2.6"/>
<circle cx="359.5" cy="309.5" r="2.6"/>
<circle cx="383.3" cy="303.8" r="2.6"/>
<circle cx="392.1" cy="305.8" r="2.6"/>
<circle cx="402.2" cy="305.8" r="2.6"/>
<circle cx="405.9" cy="305.8" r="2.6"/>
<path d="M391.4 309.0L409.2 309.0" fill="none" stroke="#95a92a" stroke-width="5" stroke-linecap="round" stroke-linejoin="round"/>
<circle cx="495.0" cy="320.3" r="2.6"/>
<circle cx="497.0" cy="323.3" r="2.6"/>
<circle cx="498.8" cy="326.3" r="2.6"/>
<circle cx="500.8" cy="328.9" r="2.6"/>
<circle cx="502.5" cy="331.4" r="2.6"/>
<circle cx="379.8" cy="332.1" r="2.6"/>
<circle cx="382.1" cy="336.6" r="2.6"/>
<circle cx="356.2" cy="336.6" r="2.6"/>
<circle cx="548.5" cy="332.1" r="2.6"/>
<circle cx="552.2" cy="333.4" r="2.6"/>
<circle cx="423.5" cy="352.4" r="2.6"/>
<circle cx="452.3" cy="332.1" r="3.6"/>
<circle cx="456.1" cy="332.4" r="3.6"/>
<circle cx="472.9" cy="333.4" r="3"/>
<circle cx="530.1" cy="339.1" r="3"/>
<circle cx="524.6" cy="349.9" r="3"/>
<circle cx="530.1" cy="356.0" r="3"/>
<circle cx="468.7" cy="342.2" r="3.4"/>
<circle cx="470.4" cy="345.9" r="3.4"/>
<circle cx="387.9" cy="361.0" r="2.6"/>
<circle cx="384.6" cy="365.2" r="2.6"/>
<path d="M436.5 376.0L448.1 376.0" fill="none" stroke="#95a92a" stroke-width="5" stroke-linecap="round" stroke-linejoin="round"/>
<circle cx="410.4" cy="385.6" r="3.8"/>
<circle cx="476.9" cy="393.9" r="2.6"/>
<circle cx="430.5" cy="399.9" r="2.6"/>
<circle cx="467.4" cy="401.1" r="2.6"/>
<circle cx="470.7" cy="401.1" r="2.6"/>
<circle cx="474.2" cy="401.1" r="2.6"/>
<circle cx="510.6" cy="398.6" r="2.6"/>
<circle cx="533.1" cy="393.9" r="2.6"/>
<circle cx="548.5" cy="392.6" r="2.6"/>
<circle cx="533.9" cy="420.2" r="2.6"/>
<circle cx="491.2" cy="436.8" r="2.6"/>
<circle cx="535.7" cy="406.9" r="3"/>
<circle cx="563.8" cy="140.7" r="2.6"/>
<circle cx="567.0" cy="142.7" r="2.6"/>
<circle cx="566.3" cy="145.7" r="2.6"/>
<circle cx="570.0" cy="145.2" r="2.6"/>
<circle cx="571.3" cy="149.7" r="2.6"/>
<circle cx="573.8" cy="148.2" r="2.6"/>
<circle cx="575.6" cy="151.4" r="2.6"/>
<circle cx="580.6" cy="152.7" r="2.6"/>
<circle cx="583.1" cy="159.7" r="2.6"/>
<circle cx="585.1" cy="157.2" r="2.6"/>
<circle cx="587.1" cy="161.5" r="2.6"/>
<circle cx="589.6" cy="160.2" r="2.6"/>
<circle cx="588.1" cy="164.7" r="2.6"/>
<circle cx="592.1" cy="164.0" r="2.6"/>
<circle cx="593.9" cy="166.5" r="2.6"/>
<circle cx="596.9" cy="168.3" r="2.6"/>
<circle cx="568.8" cy="143.9" r="2.6"/>
<circle cx="577.6" cy="154.0" r="2.6"/>
<circle cx="583.8" cy="155.7" r="2.6"/>
<circle cx="590.6" cy="162.7" r="2.6"/>
<circle cx="592.6" cy="139.6" r="2.6"/>
<circle cx="599.6" cy="150.7" r="2.6"/>
<circle cx="601.4" cy="151.4" r="2.6"/>
<circle cx="609.2" cy="169.0" r="2.6"/>
<circle cx="561.8" cy="184.8" r="2.6"/>
<circle cx="581.8" cy="187.1" r="2.6"/>
<circle cx="604.4" cy="193.4" r="2.6"/>
<circle cx="611.7" cy="191.8" r="2.6"/>
<circle cx="564.0" cy="212.2" r="2.6"/>
<circle cx="598.4" cy="212.2" r="2.6"/>
<circle cx="603.4" cy="209.7" r="2.6"/>
<circle cx="610.2" cy="260.6" r="2.6"/>
<circle cx="612.7" cy="273.9" r="2.6"/>
<circle cx="614.0" cy="292.7" r="2.6"/>
<circle cx="615.2" cy="301.3" r="2.6"/>
<circle cx="561.8" cy="278.7" r="2.6"/>
<circle cx="578.1" cy="350.9" r="2.6"/>
<circle cx="616.2" cy="373.5" r="2.6"/>
<circle cx="617.5" cy="403.6" r="2.6"/>
<circle cx="618.7" cy="428.2" r="2.6"/>
<circle cx="621.5" cy="439.3" r="2.6"/>
<circle cx="736.4" cy="138.1" r="2.6"/>
<circle cx="736.4" cy="140.7" r="2.6"/>
<circle cx="736.4" cy="149.7" r="2.6"/>
<circle cx="736.4" cy="152.2" r="2.6"/>
<circle cx="775.3" cy="151.4" r="2.6"/>
<circle cx="802.7" cy="140.7" r="2.6"/>
<circle cx="836.0" cy="140.7" r="2.6"/>
<circle cx="881.2" cy="140.7" r="2.6"/>
<circle cx="956.0" cy="140.7" r="2.6"/>
<circle cx="944.4" cy="113.0" r="2.6"/>
<circle cx="943.2" cy="117.1" r="2.6"/>
<circle cx="928.9" cy="148.9" r="2.6"/>
<circle cx="939.4" cy="146.7" r="2.6"/>
<circle cx="944.4" cy="151.4" r="2.6"/>
<circle cx="940.7" cy="155.2" r="2.6"/>
<circle cx="914.3" cy="153.7" r="2.6"/>
<circle cx="859.1" cy="140.7" r="3"/>
<circle cx="926.9" cy="140.7" r="3"/>
<circle cx="943.4" cy="138.1" r="3.4"/>
<circle cx="943.4" cy="140.7" r="3.4"/>
<circle cx="752.0" cy="170.5" r="2.6"/>
<path d="M721.4 184.6L735.2 184.6" fill="none" stroke="#95a92a" stroke-width="6.5" stroke-linecap="round" stroke-linejoin="round"/>
<circle cx="751.2" cy="184.8" r="2.6"/>
<circle cx="763.3" cy="184.8" r="2.6"/>
<circle cx="766.3" cy="184.8" r="2.6"/>
<circle cx="774.6" cy="185.3" r="2.6"/>
<circle cx="777.1" cy="187.8" r="2.6"/>
<circle cx="780.3" cy="184.8" r="2.6"/>
<circle cx="787.1" cy="177.8" r="2.6"/>
<circle cx="789.6" cy="177.8" r="2.6"/>
<circle cx="796.9" cy="184.8" r="2.6"/>
<circle cx="806.4" cy="177.8" r="2.6"/>
<circle cx="828.0" cy="184.8" r="2.6"/>
<circle cx="830.5" cy="183.3" r="2.6"/>
<circle cx="853.6" cy="184.8" r="2.6"/>
<circle cx="857.4" cy="184.8" r="2.6"/>
<circle cx="859.1" cy="179.0" r="2.6"/>
<circle cx="864.9" cy="184.8" r="2.6"/>
<circle cx="871.7" cy="184.8" r="2.6"/>
<circle cx="874.9" cy="184.1" r="2.6"/>
<circle cx="883.7" cy="182.3" r="2.6"/>
<circle cx="894.5" cy="177.8" r="2.6"/>
<circle cx="901.3" cy="183.3" r="2.6"/>
<circle cx="903.8" cy="184.1" r="2.6"/>
<circle cx="910.1" cy="184.8" r="2.6"/>
<circle cx="869.9" cy="195.4" r="2.6"/>
<circle cx="872.4" cy="195.4" r="2.6"/>
<circle cx="875.2" cy="195.4" r="2.6"/>
<circle cx="947.7" cy="179.8" r="2.6"/>
<circle cx="945.7" cy="184.8" r="2.6"/>
<circle cx="952.7" cy="193.4" r="2.6"/>
<circle cx="948.0" cy="209.7" r="2.6"/>
<circle cx="721.4" cy="214.2" r="2.6"/>
<circle cx="723.1" cy="217.4" r="2.6"/>
<circle cx="725.1" cy="220.5" r="2.6"/>
<circle cx="727.4" cy="224.2" r="2.6"/>
<circle cx="728.6" cy="227.5" r="2.6"/>
<circle cx="730.1" cy="230.5" r="2.6"/>
<circle cx="731.4" cy="233.8" r="2.6"/>
<circle cx="732.4" cy="236.8" r="2.6"/>
<circle cx="733.4" cy="239.8" r="2.6"/>
<circle cx="734.4" cy="242.5" r="2.6"/>
<circle cx="747.0" cy="246.3" r="2.6"/>
<circle cx="775.3" cy="213.4" r="2.6"/>
<circle cx="777.1" cy="221.7" r="2.6"/>
<circle cx="777.8" cy="228.0" r="3"/>
<circle cx="779.1" cy="242.5" r="3"/>
<circle cx="939.4" cy="231.2" r="2.6"/>
<circle cx="928.9" cy="234.8" r="2.6"/>
<circle cx="916.8" cy="238.0" r="2.6"/>
<circle cx="918.3" cy="242.0" r="2.6"/>
<circle cx="914.3" cy="249.1" r="2.6"/>
<circle cx="912.1" cy="256.1" r="2.6"/>
<circle cx="915.8" cy="270.6" r="2.6"/>
<circle cx="943.2" cy="251.3" r="2.6"/>
<circle cx="945.4" cy="283.7" r="2.6"/>
<circle cx="806.4" cy="271.4" r="2.6"/>
<circle cx="820.5" cy="271.4" r="2.6"/>
<circle cx="823.5" cy="271.4" r="2.6"/>
<circle cx="826.8" cy="271.4" r="2.6"/>
<circle cx="844.3" cy="271.4" r="2.6"/>
<circle cx="857.6" cy="271.4" r="2.6"/>
<circle cx="774.1" cy="276.4" r="2.6"/>
<circle cx="780.3" cy="283.4" r="2.6"/>
<circle cx="812.9" cy="281.9" r="2.6"/>
<circle cx="813.5" cy="287.0" r="2.6"/>
<circle cx="857.6" cy="300.0" r="2.6"/>
<circle cx="875.4" cy="300.0" r="2.6"/>
<circle cx="760.0" cy="306.3" r="2.6"/>
<circle cx="762.8" cy="306.3" r="2.6"/>
<circle cx="768.3" cy="306.3" r="2.6"/>
<circle cx="786.1" cy="313.3" r="2.6"/>
<circle cx="806.4" cy="313.3" r="2.6"/>
<circle cx="833.8" cy="309.5" r="2.6"/>
<circle cx="854.1" cy="316.6" r="2.6"/>
<circle cx="900.3" cy="306.3" r="2.6"/>
<circle cx="909.8" cy="310.8" r="2.6"/>
<circle cx="955.2" cy="309.5" r="2.6"/>
<circle cx="812.9" cy="300.0" r="3"/>
<circle cx="888.2" cy="317.8" r="3"/>
<circle cx="892.2" cy="317.8" r="3"/>
<circle cx="922.1" cy="310.8" r="3"/>
<circle cx="801.7" cy="339.1" r="2.6"/>
<circle cx="799.6" cy="347.2" r="2.6"/>
<circle cx="800.9" cy="350.2" r="2.6"/>
<circle cx="804.7" cy="350.2" r="2.6"/>
<circle cx="811.4" cy="350.2" r="2.6"/>
<circle cx="824.2" cy="350.2" r="2.6"/>
<circle cx="836.3" cy="350.2" r="2.6"/>
<circle cx="870.4" cy="354.7" r="2.6"/>
<circle cx="881.2" cy="352.2" r="2.6"/>
<circle cx="921.6" cy="348.9" r="2.6"/>
<circle cx="757.7" cy="348.4" r="3.6"/>
<circle cx="802.7" cy="365.5" r="2.6"/>
<circle cx="811.2" cy="365.5" r="2.6"/>
<circle cx="832.5" cy="365.5" r="2.6"/>
<circle cx="836.0" cy="365.5" r="2.6"/>
<circle cx="846.8" cy="370.3" r="2.6"/>
<circle cx="841.1" cy="376.0" r="2.6"/>
<circle cx="863.4" cy="376.0" r="2.6"/>
<circle cx="893.2" cy="385.6" r="2.6"/>
<circle cx="953.7" cy="385.6" r="2.6"/>
<circle cx="952.7" cy="398.6" r="2.6"/>
<path d="M844.1 365.5L851.8 365.5" fill="none" stroke="#95a92a" stroke-width="5" stroke-linecap="round" stroke-linejoin="round"/>
<circle cx="897.5" cy="368.0" r="3"/>
<circle cx="738.7" cy="374.8" r="2.6"/>
<circle cx="773.3" cy="385.6" r="2.6"/>
<circle cx="761.3" cy="391.6" r="2.6"/>
<circle cx="759.5" cy="394.1" r="2.6"/>
<circle cx="755.2" cy="398.6" r="2.6"/>
<circle cx="736.9" cy="381.1" r="3"/>
<circle cx="740.2" cy="381.1" r="3"/>
<circle cx="782.1" cy="381.1" r="3"/>
<circle cx="793.9" cy="385.6" r="3"/>
<circle cx="870.2" cy="398.6" r="3"/>
<circle cx="873.2" cy="398.6" r="3"/>
<circle cx="832.8" cy="417.9" r="2.6"/>
<circle cx="868.4" cy="421.2" r="2.6"/>
<circle cx="904.3" cy="415.4" r="2.6"/>
<circle cx="907.1" cy="415.4" r="2.6"/>
<circle cx="899.3" cy="425.0" r="2.6"/>
<circle cx="895.5" cy="430.7" r="2.6"/>
<circle cx="912.1" cy="425.0" r="2.6"/>
<circle cx="955.2" cy="422.5" r="2.6"/>
<circle cx="750.5" cy="426.2" r="2.6"/>
<circle cx="742.4" cy="433.8" r="2.6"/>
<circle cx="793.4" cy="430.7" r="2.6"/>
<circle cx="760.0" cy="425.0" r="3"/>
<circle cx="763.0" cy="425.0" r="3"/>
<circle cx="926.9" cy="433.8" r="3.4"/>
<circle cx="963.5" cy="140.7" r="2.6"/>
<circle cx="975.6" cy="138.4" r="2.6"/>
<circle cx="996.6" cy="140.7" r="2.6"/>
<circle cx="1044.3" cy="140.7" r="2.6"/>
<circle cx="1154.7" cy="140.7" r="2.6"/>
<circle cx="1160.8" cy="140.7" r="2.6"/>
<circle cx="1163.3" cy="140.7" r="2.6"/>
<circle cx="1169.5" cy="140.7" r="2.6"/>
<circle cx="1172.0" cy="140.7" r="2.6"/>
<circle cx="1273.7" cy="140.7" r="2.6"/>
<circle cx="1150.0" cy="152.7" r="2.6"/>
<circle cx="1069.7" cy="140.7" r="3"/>
<path d="M1078.4 140.7L1091.2 140.7" fill="none" stroke="#95a92a" stroke-width="5" stroke-linecap="round" stroke-linejoin="round"/>
<path d="M1111.1 140.7L1116.3 140.7" fill="none" stroke="#95a92a" stroke-width="5" stroke-linecap="round" stroke-linejoin="round"/>
<path d="M1184.3 140.7L1199.6 140.7" fill="none" stroke="#95a92a" stroke-width="5.5" stroke-linecap="round" stroke-linejoin="round"/>
<circle cx="970.5" cy="177.8" r="2.6"/>
<circle cx="969.5" cy="184.8" r="2.6"/>
<circle cx="979.6" cy="184.8" r="2.6"/>
<circle cx="983.1" cy="184.8" r="2.6"/>
<circle cx="969.5" cy="195.4" r="2.6"/>
<circle cx="983.6" cy="201.4" r="2.6"/>
<circle cx="967.0" cy="212.2" r="2.6"/>
<circle cx="1061.6" cy="183.6" r="2.6"/>
<circle cx="1065.9" cy="184.8" r="2.6"/>
<circle cx="1074.9" cy="186.1" r="2.6"/>
<circle cx="1127.6" cy="177.8" r="2.6"/>
<circle cx="1114.3" cy="195.4" r="2.6"/>
<circle cx="1220.2" cy="184.8" r="2.6"/>
<circle cx="1292.7" cy="183.6" r="2.6"/>
<circle cx="1289.2" cy="187.1" r="2.6"/>
<circle cx="1265.4" cy="195.4" r="2.6"/>
<circle cx="1017.7" cy="184.3" r="3.4"/>
<circle cx="1020.7" cy="184.6" r="3.4"/>
<path d="M1037.8 184.8L1044.8 184.8" fill="none" stroke="#95a92a" stroke-width="5" stroke-linecap="round" stroke-linejoin="round"/>
<path d="M1094.0 184.3L1102.0 184.3" fill="none" stroke="#95a92a" stroke-width="5.5" stroke-linecap="round" stroke-linejoin="round"/>
<path d="M1118.1 177.8L1121.4 177.8" fill="none" stroke="#95a92a" stroke-width="5" stroke-linecap="round" stroke-linejoin="round"/>
<path d="M1117.3 184.8L1121.4 184.8" fill="none" stroke="#95a92a" stroke-width="5" stroke-linecap="round" stroke-linejoin="round"/>
<circle cx="1156.5" cy="184.8" r="3"/>
<circle cx="1269.4" cy="178.8" r="3"/>
<path d="M1163.8 184.6L1167.8 184.6" fill="none" stroke="#95a92a" stroke-width="5.4" stroke-linecap="round" stroke-linejoin="round"/>
<path d="M1172.5 184.3L1182.8 184.3" fill="none" stroke="#95a92a" stroke-width="5" stroke-linecap="round" stroke-linejoin="round"/>
<circle cx="1035.8" cy="210.9" r="2.6"/>
<circle cx="1069.2" cy="209.7" r="2.6"/>
<circle cx="1070.4" cy="212.2" r="2.6"/>
<circle cx="1091.7" cy="206.1" r="2.6"/>
<circle cx="1114.3" cy="209.7" r="2.6"/>
<circle cx="1123.9" cy="212.2" r="2.6"/>
<circle cx="1150.0" cy="216.9" r="2.6"/>
<circle cx="1154.7" cy="212.2" r="2.6"/>
<circle cx="1164.5" cy="212.2" r="2.6"/>
<circle cx="1172.8" cy="209.2" r="2.6"/>
<circle cx="1172.8" cy="212.2" r="2.6"/>
<circle cx="1183.3" cy="209.7" r="2.6"/>
<circle cx="1219.0" cy="208.7" r="2.6"/>
<circle cx="1289.2" cy="220.5" r="2.6"/>
<path d="M1160.0 209.7L1165.3 209.7" fill="none" stroke="#95a92a" stroke-width="5.2" stroke-linecap="round" stroke-linejoin="round"/>
<circle cx="1232.3" cy="209.7" r="3"/>
<circle cx="1233.0" cy="212.2" r="3"/>
<circle cx="1067.9" cy="246.3" r="2.6"/>
<circle cx="1079.9" cy="249.1" r="2.6"/>
<circle cx="1074.2" cy="252.6" r="2.6"/>
<circle cx="1074.2" cy="256.1" r="2.6"/>
<circle cx="1230.8" cy="246.3" r="2.6"/>
<circle cx="1288.0" cy="246.3" r="2.6"/>
<circle cx="1303.5" cy="252.6" r="2.6"/>
<circle cx="1247.6" cy="259.6" r="2.6"/>
<circle cx="1318.8" cy="269.4" r="2.6"/>
<circle cx="1325.9" cy="282.2" r="2.6"/>
<circle cx="1091.7" cy="255.1" r="3.6"/>
<circle cx="1056.1" cy="262.6" r="3"/>
<circle cx="1019.5" cy="271.6" r="2.6"/>
<circle cx="1029.0" cy="276.4" r="2.6"/>
<circle cx="1025.7" cy="282.2" r="2.6"/>
<circle cx="1027.8" cy="284.4" r="2.6"/>
<circle cx="1031.5" cy="289.5" r="2.6"/>
<circle cx="1029.8" cy="292.0" r="2.6"/>
<circle cx="1017.0" cy="302.3" r="2.6"/>
<circle cx="980.1" cy="283.4" r="2.6"/>
<circle cx="1015.7" cy="277.2" r="3"/>
<circle cx="1031.5" cy="279.2" r="3"/>
<circle cx="1033.5" cy="286.2" r="3"/>
<circle cx="1065.4" cy="276.4" r="2.6"/>
<circle cx="1067.2" cy="280.7" r="2.6"/>
<circle cx="1067.2" cy="290.7" r="2.6"/>
<circle cx="1062.1" cy="294.0" r="2.6"/>
<circle cx="1064.6" cy="300.0" r="2.6"/>
<circle cx="1053.9" cy="310.8" r="2.6"/>
<circle cx="1114.3" cy="282.2" r="2.6"/>
<circle cx="1118.1" cy="283.4" r="2.6"/>
<circle cx="1157.0" cy="280.9" r="2.6"/>
<circle cx="1165.5" cy="282.2" r="2.6"/>
<circle cx="1178.6" cy="271.6" r="2.6"/>
<circle cx="1166.5" cy="303.5" r="2.6"/>
<circle cx="1182.1" cy="303.5" r="2.6"/>
<circle cx="1125.1" cy="313.0" r="2.6"/>
<circle cx="1176.3" cy="307.0" r="3"/>
<circle cx="1176.3" cy="309.5" r="3"/>
<circle cx="1220.5" cy="275.2" r="3"/>
<circle cx="1223.0" cy="275.2" r="3"/>
<circle cx="1221.2" cy="294.0" r="2.6"/>
<circle cx="1248.6" cy="277.4" r="2.6"/>
<circle cx="1261.1" cy="280.7" r="2.6"/>
<circle cx="1264.9" cy="279.4" r="2.6"/>
<circle cx="1268.2" cy="278.7" r="2.6"/>
<circle cx="1259.9" cy="287.0" r="2.6"/>
<circle cx="1263.6" cy="285.7" r="2.6"/>
<circle cx="1266.6" cy="284.4" r="2.6"/>
<circle cx="1261.1" cy="291.2" r="2.6"/>
<circle cx="1264.9" cy="289.5" r="2.6"/>
<circle cx="1266.6" cy="287.7" r="2.6"/>
<circle cx="1242.8" cy="296.5" r="2.6"/>
<circle cx="1249.8" cy="296.5" r="2.6"/>
<circle cx="1242.8" cy="303.5" r="2.6"/>
<circle cx="1271.4" cy="297.5" r="2.6"/>
<circle cx="1270.2" cy="303.5" r="2.6"/>
<circle cx="1322.4" cy="303.5" r="2.6"/>
<circle cx="1263.6" cy="285.7" r="4"/>
<path d="M1296.8 306.0L1301.3 306.0" fill="none" stroke="#95a92a" stroke-width="5" stroke-linecap="round" stroke-linejoin="round"/>
<circle cx="987.4" cy="333.4" r="2.6"/>
<circle cx="983.8" cy="340.9" r="2.6"/>
<circle cx="986.3" cy="343.4" r="2.6"/>
<circle cx="987.4" cy="349.9" r="2.6"/>
<circle cx="981.3" cy="360.7" r="2.6"/>
<circle cx="1006.4" cy="347.2" r="2.6"/>
<circle cx="1004.7" cy="349.9" r="2.6"/>
<circle cx="1082.2" cy="332.1" r="2.6"/>
<circle cx="1175.1" cy="336.6" r="2.6"/>
<circle cx="1176.3" cy="353.5" r="2.6"/>
<circle cx="1173.8" cy="365.2" r="2.6"/>
<circle cx="1104.3" cy="332.1" r="3"/>
<circle cx="1108.1" cy="332.1" r="3"/>
<circle cx="1096.3" cy="342.2" r="3"/>
<circle cx="1096.3" cy="346.4" r="3"/>
<circle cx="1246.1" cy="332.1" r="3.4"/>
<circle cx="1250.6" cy="333.9" r="3.4"/>
<circle cx="1247.6" cy="342.2" r="3"/>
<circle cx="1247.6" cy="346.4" r="3"/>
<circle cx="1312.8" cy="342.2" r="3"/>
<circle cx="1312.8" cy="345.9" r="3"/>
<path d="M1259.1 343.9L1268.2 343.9" fill="none" stroke="#95a92a" stroke-width="7" stroke-linecap="round" stroke-linejoin="round"/>
<circle cx="1284.5" cy="333.4" r="2.6"/>
<circle cx="1284.5" cy="341.7" r="2.6"/>
<circle cx="1329.4" cy="337.9" r="2.6"/>
<circle cx="1353.5" cy="360.7" r="2.6"/>
<circle cx="1360.0" cy="358.0" r="2.6"/>
<circle cx="1333.9" cy="342.2" r="3.4"/>
<circle cx="1333.9" cy="345.9" r="3.4"/>
<path d="M1315.6 372.5L1322.1 372.5" fill="none" stroke="#95a92a" stroke-width="5" stroke-linecap="round" stroke-linejoin="round"/>
<circle cx="960.0" cy="370.3" r="2.6"/>
<circle cx="967.0" cy="383.6" r="2.6"/>
<circle cx="965.0" cy="385.6" r="2.6"/>
<circle cx="974.3" cy="385.6" r="2.6"/>
<circle cx="991.9" cy="380.8" r="2.6"/>
<circle cx="1008.7" cy="383.3" r="2.6"/>
<circle cx="1013.5" cy="391.6" r="2.6"/>
<circle cx="1010.9" cy="393.9" r="2.6"/>
<circle cx="982.3" cy="392.6" r="2.6"/>
<circle cx="983.6" cy="401.1" r="2.6"/>
<circle cx="967.0" cy="422.5" r="2.6"/>
<circle cx="976.6" cy="422.5" r="2.6"/>
<circle cx="962.0" cy="436.8" r="2.6"/>
<circle cx="1082.2" cy="392.6" r="2.6"/>
<circle cx="1072.7" cy="398.6" r="2.6"/>
<circle cx="1113.3" cy="396.4" r="2.6"/>
<circle cx="1123.9" cy="398.6" r="2.6"/>
<circle cx="1145.2" cy="395.1" r="2.6"/>
<circle cx="1167.8" cy="401.1" r="2.6"/>
<circle cx="1073.9" cy="414.2" r="2.6"/>
<circle cx="1101.3" cy="418.9" r="2.6"/>
<circle cx="1114.3" cy="422.5" r="2.6"/>
<circle cx="1104.3" cy="392.6" r="3"/>
<circle cx="1108.1" cy="392.6" r="3"/>
<circle cx="1088.2" cy="433.8" r="3"/>
<circle cx="1154.7" cy="433.8" r="3"/>
<path d="M1068.4 422.5L1072.4 422.5" fill="none" stroke="#95a92a" stroke-width="5" stroke-linecap="round" stroke-linejoin="round"/>
<path d="M1160.0 422.5L1164.0 422.5" fill="none" stroke="#95a92a" stroke-width="5" stroke-linecap="round" stroke-linejoin="round"/>
<circle cx="1235.5" cy="380.8" r="2.6"/>
<circle cx="1258.1" cy="380.8" r="2.6"/>
<circle cx="1246.3" cy="392.6" r="2.6"/>
<circle cx="1304.5" cy="385.6" r="2.6"/>
<circle cx="1300.8" cy="393.9" r="2.6"/>
<circle cx="1283.2" cy="401.1" r="2.6"/>
<circle cx="1331.9" cy="380.8" r="2.6"/>
<circle cx="1295.0" cy="414.2" r="2.6"/>
<circle cx="1288.0" cy="421.2" r="2.6"/>
<circle cx="1312.8" cy="421.2" r="2.6"/>
<circle cx="1230.5" cy="421.2" r="2.6"/>
<circle cx="1233.5" cy="423.0" r="2.6"/>
<circle cx="1236.5" cy="424.7" r="2.6"/>
<circle cx="1239.3" cy="426.2" r="2.6"/>
<circle cx="1283.7" cy="425.0" r="3"/>
<path d="M1294.3 425.0L1303.3 425.0" fill="none" stroke="#95a92a" stroke-width="5" stroke-linecap="round" stroke-linejoin="round"/>
<circle cx="1370.6" cy="279.0" r="2.6"/>
<circle cx="1376.1" cy="276.5" r="2.6"/>
<circle cx="1373.1" cy="281.6" r="2.6"/>
<circle cx="1400.8" cy="286.7" r="2.6"/>
<circle cx="1404.6" cy="283.3" r="2.6"/>
<circle cx="1390.1" cy="303.3" r="2.6"/>
<circle cx="1399.5" cy="309.2" r="2.6"/>
<circle cx="1405.4" cy="354.7" r="2.6"/>
<circle cx="1386.7" cy="385.3" r="2.6"/>
<circle cx="1404.6" cy="400.6" r="2.6"/>
<circle cx="1408.0" cy="398.5" r="2.6"/>
<circle cx="1399.5" cy="417.6" r="2.6"/>
<circle cx="1414.4" cy="272.2" r="1.3"/>
<circle cx="1414.4" cy="282.9" r="1.3"/>
<circle cx="1414.4" cy="309.6" r="1.3"/>
<circle cx="1414.4" cy="360.6" r="1.3"/>
<circle cx="1414.4" cy="365.7" r="1.3"/>
<circle cx="1414.4" cy="370.8" r="1.3"/>
<circle cx="1414.4" cy="412.5" r="1.3"/>
<circle cx="1414.4" cy="416.7" r="1.3"/>
<circle cx="1414.4" cy="436.3" r="1.3"/>
<circle cx="1414.4" cy="516.6" r="1.3"/>
<circle cx="1414.4" cy="522.1" r="1.3"/>
<circle cx="466.4" cy="510.8" r="2.6"/>
<circle cx="483.2" cy="516.5" r="2.6"/>
<circle cx="484.4" cy="528.3" r="2.6"/>
<circle cx="488.7" cy="535.4" r="2.6"/>
<circle cx="538.4" cy="576.0" r="2.6"/>
<circle cx="537.6" cy="581.8" r="2.6"/>
<circle cx="547.2" cy="597.3" r="2.6"/>
<path d="M479.2 455.8L485.7 455.8" fill="none" stroke="#95a92a" stroke-width="5" stroke-linecap="round" stroke-linejoin="round"/>
<circle cx="488.0" cy="500.2" r="3"/>
<circle cx="530.9" cy="524.6" r="3"/>
<circle cx="532.9" cy="527.1" r="3"/>
<circle cx="548.4" cy="524.8" r="2.6"/>
<circle cx="540.2" cy="562.7" r="2.6"/>
<circle cx="565.2" cy="561.7" r="2.6"/>
<circle cx="556.7" cy="567.5" r="2.6"/>
<circle cx="564.0" cy="567.5" r="2.6"/>
<circle cx="601.9" cy="564.0" r="2.6"/>
<circle cx="598.1" cy="567.5" r="2.6"/>
<circle cx="599.4" cy="456.8" r="2.6"/>
<circle cx="669.6" cy="448.8" r="2.6"/>
<circle cx="559.7" cy="558.4" r="3"/>
<circle cx="561.7" cy="557.4" r="3"/>
<circle cx="622.0" cy="441.3" r="2.6"/>
<circle cx="623.7" cy="444.5" r="2.6"/>
<circle cx="625.0" cy="447.0" r="2.6"/>
<circle cx="625.7" cy="452.0" r="2.6"/>
<circle cx="626.7" cy="466.3" r="2.6"/>
<circle cx="629.2" cy="498.2" r="2.6"/>
<circle cx="630.5" cy="500.7" r="2.6"/>
<circle cx="631.7" cy="512.8" r="2.6"/>
<circle cx="633.2" cy="514.3" r="2.6"/>
<circle cx="635.3" cy="523.6" r="2.6"/>
<circle cx="633.8" cy="535.4" r="2.6"/>
<circle cx="636.8" cy="534.1" r="2.6"/>
<circle cx="637.8" cy="537.9" r="2.6"/>
<circle cx="638.8" cy="560.5" r="2.6"/>
<circle cx="640.0" cy="570.0" r="2.6"/>
<circle cx="641.0" cy="592.3" r="2.6"/>
<circle cx="642.3" cy="613.7" r="2.6"/>
<circle cx="765.7" cy="762.5" r="3.4"/>
<circle cx="773.3" cy="770.0" r="3.4"/>
<circle cx="861.4" cy="467.6" r="2.6"/>
<circle cx="945.7" cy="453.3" r="2.6"/>
<circle cx="978.8" cy="455.8" r="2.6"/>
<circle cx="955.2" cy="472.4" r="2.6"/>
<circle cx="1057.3" cy="455.8" r="2.6"/>
<circle cx="949.7" cy="449.5" r="3.4"/>
<circle cx="979.8" cy="464.6" r="3"/>
<circle cx="1003.1" cy="453.8" r="3.2"/>
<circle cx="1003.1" cy="455.8" r="3.2"/>
<circle cx="762.2" cy="525.3" r="3"/>
<circle cx="760.2" cy="527.3" r="3"/>
<circle cx="797.1" cy="516.5" r="2.6"/>
<circle cx="811.2" cy="522.3" r="2.6"/>
<circle cx="795.6" cy="533.1" r="2.6"/>
<circle cx="983.6" cy="521.1" r="2.6"/>
<circle cx="995.4" cy="527.1" r="2.6"/>
<circle cx="959.7" cy="533.1" r="2.6"/>
<circle cx="951.4" cy="540.4" r="2.6"/>
<circle cx="1026.2" cy="516.5" r="2.6"/>
<circle cx="1026.2" cy="533.1" r="2.6"/>
<circle cx="1054.6" cy="529.1" r="2.6"/>
<circle cx="1057.3" cy="527.8" r="2.6"/>
<circle cx="1060.9" cy="539.1" r="2.6"/>
<circle cx="815.7" cy="533.1" r="3"/>
<circle cx="818.7" cy="533.1" r="3"/>
<circle cx="911.0" cy="525.3" r="3"/>
<circle cx="1011.9" cy="524.8" r="3"/>
<circle cx="1010.7" cy="527.3" r="3"/>
<circle cx="1034.8" cy="531.3" r="3"/>
<circle cx="1045.3" cy="525.3" r="3"/>
<circle cx="1069.1" cy="531.3" r="3"/>
<circle cx="739.9" cy="561.7" r="2.6"/>
<circle cx="737.4" cy="567.5" r="2.6"/>
<circle cx="751.7" cy="575.8" r="2.6"/>
<circle cx="799.4" cy="567.5" r="2.6"/>
<circle cx="1063.4" cy="568.7" r="2.6"/>
<circle cx="1063.4" cy="571.0" r="2.6"/>
<circle cx="1067.1" cy="571.0" r="2.6"/>
<circle cx="1024.0" cy="576.8" r="2.6"/>
<circle cx="1024.0" cy="580.5" r="2.6"/>
<circle cx="1094.0" cy="585.3" r="2.6"/>
<circle cx="1084.7" cy="602.1" r="2.6"/>
<circle cx="1058.3" cy="610.4" r="2.6"/>
<circle cx="1065.6" cy="610.4" r="2.6"/>
<circle cx="836.8" cy="565.0" r="3"/>
<circle cx="839.3" cy="565.0" r="3"/>
<circle cx="1051.3" cy="558.4" r="3"/>
<circle cx="1049.1" cy="576.8" r="3"/>
<circle cx="1049.1" cy="579.3" r="3"/>
<circle cx="903.0" cy="589.1" r="2.6"/>
<circle cx="977.5" cy="600.9" r="2.6"/>
<circle cx="980.1" cy="616.4" r="2.6"/>
<circle cx="770.8" cy="605.6" r="2.6"/>
<circle cx="799.4" cy="605.6" r="2.6"/>
<circle cx="872.1" cy="586.5" r="3"/>
<circle cx="873.1" cy="588.1" r="3"/>
<circle cx="902.0" cy="581.8" r="3"/>
<circle cx="864.6" cy="598.8" r="3"/>
<circle cx="763.5" cy="598.3" r="3"/>
<circle cx="766.2" cy="598.3" r="3"/>
<circle cx="917.1" cy="625.7" r="3"/>
<circle cx="918.3" cy="627.2" r="3"/>
<circle cx="930.9" cy="598.6" r="3.4"/>
<circle cx="930.9" cy="600.9" r="3.4"/>
<circle cx="744.7" cy="648.3" r="2.6"/>
<circle cx="745.9" cy="649.5" r="2.6"/>
<circle cx="755.5" cy="650.8" r="2.6"/>
<circle cx="797.9" cy="652.0" r="2.6"/>
<circle cx="801.6" cy="653.3" r="2.6"/>
<circle cx="819.7" cy="654.3" r="2.6"/>
<circle cx="822.5" cy="655.6" r="2.6"/>
<circle cx="831.5" cy="656.6" r="2.6"/>
<circle cx="839.8" cy="659.1" r="2.6"/>
<circle cx="841.3" cy="657.8" r="2.6"/>
<circle cx="865.6" cy="660.3" r="2.6"/>
<circle cx="867.4" cy="661.6" r="2.6"/>
<circle cx="876.4" cy="662.6" r="2.6"/>
<circle cx="878.7" cy="662.6" r="2.6"/>
<circle cx="882.7" cy="663.8" r="2.6"/>
<circle cx="898.0" cy="665.1" r="2.6"/>
<circle cx="913.3" cy="666.3" r="2.6"/>
<circle cx="920.6" cy="667.6" r="2.6"/>
<circle cx="925.3" cy="668.6" r="2.6"/>
<circle cx="935.9" cy="669.9" r="2.6"/>
<circle cx="938.4" cy="672.1" r="2.6"/>
<circle cx="958.5" cy="674.6" r="2.6"/>
<circle cx="962.2" cy="675.9" r="2.6"/>
<circle cx="964.7" cy="673.4" r="2.6"/>
<circle cx="988.1" cy="676.9" r="2.6"/>
<circle cx="992.3" cy="678.1" r="2.6"/>
<circle cx="995.4" cy="680.4" r="2.6"/>
<circle cx="1001.4" cy="679.4" r="2.6"/>
<circle cx="1009.7" cy="682.9" r="2.6"/>
<circle cx="1021.5" cy="681.7" r="2.6"/>
<circle cx="1022.7" cy="683.9" r="2.6"/>
<circle cx="1037.0" cy="685.2" r="2.6"/>
<circle cx="1046.5" cy="686.4" r="2.6"/>
<circle cx="1046.5" cy="687.9" r="2.6"/>
<circle cx="1067.9" cy="688.9" r="2.6"/>
<circle cx="1075.2" cy="689.9" r="2.6"/>
<circle cx="1076.4" cy="691.2" r="2.6"/>
<circle cx="1093.0" cy="692.4" r="2.6"/>
<circle cx="1100.0" cy="693.7" r="2.6"/>
<circle cx="862.4" cy="644.8" r="2.6"/>
<circle cx="883.7" cy="637.5" r="2.6"/>
<circle cx="888.5" cy="641.3" r="2.6"/>
<circle cx="884.9" cy="696.0" r="2.6"/>
<circle cx="1076.2" cy="729.3" r="2.6"/>
<circle cx="750.4" cy="738.6" r="2.6"/>
<circle cx="824.5" cy="749.4" r="2.6"/>
<circle cx="824.5" cy="757.9" r="2.6"/>
<circle cx="797.1" cy="769.5" r="2.6"/>
<circle cx="814.7" cy="769.5" r="2.6"/>
<circle cx="864.6" cy="762.5" r="2.6"/>
<circle cx="901.5" cy="754.2" r="2.6"/>
<circle cx="941.9" cy="749.4" r="2.6"/>
<circle cx="976.3" cy="766.2" r="2.6"/>
<circle cx="895.7" cy="780.0" r="2.6"/>
<circle cx="1095.2" cy="780.0" r="2.6"/>
<circle cx="764.7" cy="741.1" r="3"/>
<circle cx="767.3" cy="755.7" r="3"/>
<circle cx="860.9" cy="776.8" r="3"/>
<circle cx="864.4" cy="776.8" r="3"/>
<circle cx="1005.1" cy="756.7" r="3"/>
<circle cx="1008.4" cy="756.7" r="3"/>
<circle cx="1117.9" cy="459.3" r="2.6"/>
<circle cx="1183.4" cy="473.4" r="2.6"/>
<circle cx="1135.7" cy="480.7" r="2.6"/>
<circle cx="1137.2" cy="485.4" r="2.6"/>
<circle cx="1138.2" cy="495.0" r="2.6"/>
<circle cx="1285.5" cy="471.4" r="2.6"/>
<circle cx="1290.5" cy="471.4" r="2.6"/>
<circle cx="1391.4" cy="448.8" r="2.6"/>
<circle cx="1391.4" cy="451.0" r="2.6"/>
<circle cx="1404.4" cy="455.8" r="2.6"/>
<circle cx="1138.9" cy="455.8" r="3"/>
<circle cx="1142.2" cy="455.8" r="3"/>
<circle cx="1168.6" cy="472.4" r="3"/>
<circle cx="1171.6" cy="472.4" r="3"/>
<path d="M1201.7 455.8L1217.7 455.8" fill="none" stroke="#95a92a" stroke-width="5.5" stroke-linecap="round" stroke-linejoin="round"/>
<circle cx="1278.0" cy="499.7" r="3.4"/>
<circle cx="1278.0" cy="502.2" r="3.4"/>
<path d="M1200.7 522.3L1217.7 522.3" fill="none" stroke="#95a92a" stroke-width="5.5" stroke-linecap="round" stroke-linejoin="round"/>
<path d="M1201.9 541.1L1217.7 555.9" fill="none" stroke="#95a92a" stroke-width="5" stroke-linecap="round" stroke-linejoin="round"/>
<circle cx="1234.3" cy="525.8" r="2.6"/>
<circle cx="1222.5" cy="539.1" r="2.6"/>
<circle cx="1240.3" cy="556.7" r="2.6"/>
<circle cx="1225.0" cy="571.0" r="2.6"/>
<circle cx="1139.4" cy="547.2" r="2.6"/>
<circle cx="1140.5" cy="550.7" r="2.6"/>
<circle cx="1141.7" cy="555.4" r="2.6"/>
<circle cx="1227.3" cy="593.6" r="2.6"/>
<circle cx="1220.0" cy="604.4" r="2.6"/>
<circle cx="1251.1" cy="603.4" r="2.6"/>
<circle cx="1128.4" cy="605.6" r="2.6"/>
<circle cx="1112.3" cy="614.7" r="2.6"/>
<circle cx="1114.4" cy="615.7" r="2.6"/>
<circle cx="1117.1" cy="617.7" r="2.6"/>
<circle cx="1132.2" cy="643.5" r="2.6"/>
<path d="M1221.8 611.6L1227.8 611.6" fill="none" stroke="#95a92a" stroke-width="5" stroke-linecap="round" stroke-linejoin="round"/>
<circle cx="1267.7" cy="516.3" r="2.6"/>
<circle cx="1275.0" cy="520.1" r="2.6"/>
<circle cx="1283.2" cy="521.1" r="2.6"/>
<circle cx="1262.7" cy="533.1" r="2.6"/>
<circle cx="1348.5" cy="516.3" r="2.6"/>
<circle cx="1379.3" cy="516.3" r="2.6"/>
<circle cx="1395.9" cy="522.3" r="2.6"/>
<circle cx="1343.7" cy="533.1" r="2.6"/>
<circle cx="1349.2" cy="533.1" r="2.6"/>
<circle cx="1351.2" cy="533.1" r="2.6"/>
<circle cx="1362.8" cy="533.1" r="2.6"/>
<circle cx="1375.1" cy="532.1" r="2.6"/>
<circle cx="1379.6" cy="533.1" r="2.6"/>
<circle cx="1275.5" cy="522.3" r="3.4"/>
<circle cx="1299.0" cy="525.3" r="3.4"/>
<circle cx="1301.1" cy="527.3" r="3.4"/>
<path d="M1371.8 529.6L1377.8 529.6" fill="none" stroke="#95a92a" stroke-width="5" stroke-linecap="round" stroke-linejoin="round"/>
<circle cx="1305.6" cy="561.5" r="2.6"/>
<circle cx="1305.6" cy="567.5" r="2.6"/>
<circle cx="1323.6" cy="561.5" r="2.6"/>
<circle cx="1328.4" cy="557.9" r="2.6"/>
<circle cx="1322.4" cy="567.5" r="2.6"/>
<circle cx="1324.1" cy="567.5" r="2.6"/>
<circle cx="1331.9" cy="567.5" r="2.6"/>
<circle cx="1328.4" cy="573.5" r="2.6"/>
<circle cx="1371.1" cy="557.9" r="2.6"/>
<circle cx="1292.8" cy="579.3" r="2.6"/>
<circle cx="1280.7" cy="591.3" r="2.6"/>
<circle cx="1401.9" cy="568.7" r="2.6"/>
<circle cx="1401.9" cy="571.0" r="2.6"/>
<circle cx="1389.9" cy="612.6" r="2.6"/>
<path d="M1323.6 610.4L1329.4 610.4" fill="none" stroke="#95a92a" stroke-width="5" stroke-linecap="round" stroke-linejoin="round"/>
<circle cx="1364.5" cy="612.6" r="3"/>
<circle cx="1367.6" cy="612.6" r="3"/>
<circle cx="1403.2" cy="610.4" r="3.4"/>
<circle cx="1412.2" cy="647.0" r="2.6"/>
<circle cx="1414.5" cy="645.8" r="2.6"/>
<circle cx="1144.2" cy="694.7" r="2.6"/>
<circle cx="1147.2" cy="697.2" r="2.6"/>
<circle cx="1153.5" cy="698.2" r="2.6"/>
<circle cx="1159.5" cy="699.5" r="2.6"/>
<circle cx="1181.1" cy="700.7" r="2.6"/>
<circle cx="1234.3" cy="702.0" r="2.6"/>
<circle cx="1252.1" cy="703.0" r="2.6"/>
<circle cx="1257.1" cy="704.2" r="2.6"/>
<circle cx="1276.0" cy="705.5" r="2.6"/>
<circle cx="1279.7" cy="706.5" r="2.6"/>
<circle cx="1285.5" cy="707.8" r="2.6"/>
<circle cx="1287.3" cy="709.3" r="2.6"/>
<circle cx="1296.3" cy="710.3" r="2.6"/>
<circle cx="1315.4" cy="711.3" r="2.6"/>
<circle cx="1314.1" cy="713.8" r="2.6"/>
<circle cx="1321.4" cy="712.5" r="2.6"/>
<circle cx="1334.9" cy="715.0" r="2.6"/>
<circle cx="1336.7" cy="716.3" r="2.6"/>
<circle cx="1338.4" cy="717.5" r="2.6"/>
<circle cx="1336.7" cy="724.3" r="2.6"/>
<circle cx="1366.3" cy="718.5" r="2.6"/>
<circle cx="1377.1" cy="719.5" r="2.6"/>
<circle cx="1383.1" cy="720.8" r="2.6"/>
<circle cx="1388.9" cy="722.3" r="2.6"/>
<circle cx="1392.6" cy="723.3" r="2.6"/>
<circle cx="1119.4" cy="740.6" r="2.6"/>
<circle cx="1122.9" cy="743.6" r="2.6"/>
<circle cx="1252.1" cy="751.9" r="2.6"/>
<circle cx="1177.3" cy="762.5" r="2.6"/>
<circle cx="1125.4" cy="773.2" r="2.6"/>
<circle cx="1127.4" cy="770.7" r="2.6"/>
<circle cx="1130.4" cy="770.7" r="2.6"/>
<circle cx="1133.4" cy="769.5" r="2.6"/>
<circle cx="1356.8" cy="762.5" r="2.6"/>
<circle cx="1310.3" cy="775.5" r="2.6"/>
<circle cx="1348.5" cy="774.3" r="2.6"/>
<circle cx="1229.8" cy="779.3" r="2.6"/>
<circle cx="1297.8" cy="739.4" r="3.4"/>
<circle cx="1239.1" cy="751.9" r="3"/>
<circle cx="1241.8" cy="751.9" r="3"/>
<circle cx="1139.2" cy="776.8" r="3"/>
<circle cx="1142.5" cy="776.8" r="3"/>
<circle cx="1414.0" cy="480.2" r="1.3"/>
<circle cx="1414.0" cy="516.3" r="1.3"/>
<circle cx="1414.0" cy="522.3" r="1.3"/>
<circle cx="788.3" cy="782.5" r="4"/>
<circle cx="809.2" cy="803.8" r="3.6"/>
<circle cx="889.5" cy="860.8" r="3.6"/>
<circle cx="956.0" cy="899.2" r="3.6"/>
<circle cx="1009.4" cy="947.4" r="2.6"/>
<circle cx="1022.5" cy="948.6" r="2.6"/>
<circle cx="1021.7" cy="952.6" r="2.6"/>
<circle cx="1016.7" cy="949.4" r="2.6"/>
<circle cx="1047.6" cy="947.6" r="2.6"/>
<circle cx="1050.3" cy="951.6" r="2.6"/>
<circle cx="964.2" cy="906.7" r="2.6"/>
<circle cx="963.0" cy="909.2" r="2.6"/>
<circle cx="1019.2" cy="949.4" r="3.8"/>
<circle cx="1041.8" cy="948.6" r="4.2"/>
<circle cx="1059.6" cy="956.9" r="3"/>
<circle cx="974.8" cy="917.5" r="3"/>
<circle cx="816.2" cy="791.3" r="3.2"/>
<circle cx="817.9" cy="792.5" r="3.2"/>
<circle cx="836.3" cy="801.8" r="2.6"/>
<circle cx="852.8" cy="803.1" r="2.6"/>
<circle cx="880.2" cy="794.6" r="2.6"/>
<circle cx="894.5" cy="782.0" r="2.6"/>
<circle cx="893.2" cy="784.5" r="2.6"/>
<circle cx="875.4" cy="813.6" r="2.6"/>
<circle cx="878.9" cy="812.4" r="2.6"/>
<circle cx="892.0" cy="811.4" r="2.6"/>
<circle cx="910.0" cy="813.6" r="2.6"/>
<circle cx="904.0" cy="824.4" r="2.6"/>
<circle cx="923.1" cy="844.5" r="2.6"/>
<circle cx="953.7" cy="787.5" r="2.6"/>
<circle cx="984.6" cy="801.8" r="2.6"/>
<circle cx="1020.5" cy="813.6" r="2.6"/>
<circle cx="1044.3" cy="813.6" r="2.6"/>
<circle cx="1094.0" cy="813.6" r="2.6"/>
<circle cx="963.2" cy="838.7" r="2.6"/>
<circle cx="969.3" cy="839.7" r="2.6"/>
<circle cx="972.8" cy="856.3" r="2.6"/>
<circle cx="1003.6" cy="863.6" r="2.6"/>
<circle cx="998.9" cy="876.6" r="2.6"/>
<circle cx="1000.1" cy="918.3" r="2.6"/>
<circle cx="1052.3" cy="844.5" r="2.6"/>
<circle cx="1064.4" cy="850.5" r="2.6"/>
<circle cx="1053.6" cy="888.4" r="2.6"/>
<circle cx="1088.2" cy="876.6" r="2.6"/>
<circle cx="1080.9" cy="884.9" r="2.6"/>
<circle cx="1083.2" cy="895.4" r="2.6"/>
<circle cx="1078.4" cy="901.5" r="2.6"/>
<circle cx="1078.4" cy="909.7" r="2.6"/>
<circle cx="1083.4" cy="909.7" r="2.6"/>
<circle cx="1072.6" cy="939.6" r="2.6"/>
<circle cx="1095.2" cy="781.3" r="2.6"/>
<circle cx="971.5" cy="787.5" r="3"/>
<circle cx="971.5" cy="790.0" r="3"/>
<circle cx="1004.9" cy="801.8" r="3"/>
<circle cx="1007.9" cy="801.8" r="3"/>
<circle cx="1098.5" cy="890.4" r="3"/>
<circle cx="1097.0" cy="893.4" r="3"/>
<path d="M981.1 831.4L988.6 831.4" fill="none" stroke="#95a92a" stroke-width="5" stroke-linecap="round" stroke-linejoin="round"/>
<path d="M1035.1 953.1L1045.1 964.4L1061.4 970.7" fill="none" stroke="#95a92a" stroke-width="4.6" stroke-linecap="round" stroke-linejoin="round"/>
<circle cx="1071.4" cy="971.7" r="2.6"/>
<circle cx="1077.5" cy="973.2" r="2.6"/>
<circle cx="1082.2" cy="975.7" r="2.6"/>
<circle cx="1085.7" cy="974.5" r="2.6"/>
<circle cx="1088.3" cy="978.2" r="2.6"/>
<circle cx="1090.8" cy="982.0" r="2.6"/>
<circle cx="1094.3" cy="977.7" r="2.6"/>
<circle cx="1047.6" cy="947.6" r="2.6"/>
<circle cx="1050.1" cy="951.4" r="2.6"/>
<circle cx="1059.6" cy="956.9" r="2.6"/>
<circle cx="1085.7" cy="968.2" r="2.6"/>
<path d="M1096.5 982.8L1101.6 988.3L1110.3 1007.1L1116.6 1012.1L1125.4 1017.1L1141.7 1023.4" fill="none" stroke="#95a92a" stroke-width="5" stroke-linecap="round" stroke-linejoin="round"/>
<circle cx="1152.2" cy="1025.2" r="2.6"/>
<circle cx="1157.5" cy="1027.2" r="2.6"/>
<circle cx="1161.8" cy="1028.9" r="2.6"/>
<circle cx="1165.5" cy="1030.4" r="2.6"/>
<circle cx="1168.1" cy="1025.4" r="2.6"/>
<path d="M1174.3 1032.2L1183.1 1036.5L1200.2 1069.3" fill="none" stroke="#95a92a" stroke-width="5" stroke-linecap="round" stroke-linejoin="round"/>
<path d="M1201.9 1038.0L1217.0 1066.8" fill="none" stroke="#95a92a" stroke-width="5" stroke-linecap="round" stroke-linejoin="round"/>
<circle cx="1227.8" cy="1070.3" r="2.6"/>
<circle cx="1230.8" cy="1071.6" r="2.6"/>
<circle cx="1244.1" cy="1075.4" r="2.6"/>
<circle cx="1273.5" cy="1094.2" r="2.6"/>
<circle cx="1278.5" cy="1095.7" r="2.6"/>
<circle cx="1281.5" cy="1097.7" r="2.6"/>
<circle cx="1303.6" cy="1107.5" r="2.6"/>
<circle cx="1308.6" cy="1108.7" r="2.6"/>
<circle cx="1311.1" cy="1108.2" r="2.6"/>
<circle cx="1316.1" cy="1110.7" r="2.6"/>
<circle cx="1318.6" cy="1111.7" r="2.6"/>
<circle cx="1340.7" cy="1120.0" r="2.6"/>
<circle cx="1352.5" cy="1120.8" r="2.6"/>
<circle cx="1361.8" cy="1119.3" r="2.6"/>
<path d="M1235.8 1073.6L1248.4 1086.1" fill="none" stroke="#95a92a" stroke-width="5.4" stroke-linecap="round" stroke-linejoin="round"/>
<path d="M1252.1 1087.4L1258.4 1093.2" fill="none" stroke="#95a92a" stroke-width="6" stroke-linecap="round" stroke-linejoin="round"/>
<path d="M1286.0 1098.7L1295.5 1107.0" fill="none" stroke="#95a92a" stroke-width="5.2" stroke-linecap="round" stroke-linejoin="round"/>
<path d="M1327.4 1111.7L1336.2 1119.3" fill="none" stroke="#95a92a" stroke-width="5.6" stroke-linecap="round" stroke-linejoin="round"/>
<circle cx="1127.9" cy="783.8" r="2.6"/>
<circle cx="1131.7" cy="782.0" r="2.6"/>
<circle cx="1134.2" cy="783.8" r="2.6"/>
<circle cx="1135.4" cy="781.3" r="2.6"/>
<circle cx="1229.5" cy="780.0" r="2.6"/>
<circle cx="1236.8" cy="787.5" r="2.6"/>
<circle cx="1291.5" cy="787.5" r="2.6"/>
<circle cx="1173.6" cy="795.8" r="2.6"/>
<circle cx="1178.6" cy="797.1" r="2.6"/>
<circle cx="1328.4" cy="801.8" r="2.6"/>
<circle cx="1410.5" cy="801.8" r="2.6"/>
<circle cx="1248.6" cy="808.9" r="2.6"/>
<circle cx="1173.6" cy="814.9" r="2.6"/>
<circle cx="1182.1" cy="813.6" r="2.6"/>
<circle cx="1352.2" cy="816.1" r="2.6"/>
<circle cx="1365.3" cy="813.6" r="2.6"/>
<circle cx="1384.4" cy="813.6" r="2.6"/>
<circle cx="1131.2" cy="823.2" r="2.6"/>
<circle cx="1316.4" cy="821.9" r="2.6"/>
<circle cx="1180.9" cy="836.2" r="2.6"/>
<circle cx="1129.9" cy="845.7" r="2.6"/>
<circle cx="1272.4" cy="842.0" r="2.6"/>
<circle cx="1338.9" cy="838.5" r="2.6"/>
<circle cx="1384.4" cy="844.5" r="2.6"/>
<circle cx="1223.8" cy="850.3" r="2.6"/>
<circle cx="1304.3" cy="867.1" r="2.6"/>
<circle cx="1367.6" cy="868.3" r="2.6"/>
<circle cx="1386.6" cy="867.1" r="2.6"/>
<circle cx="1226.0" cy="888.4" r="2.6"/>
<circle cx="1273.5" cy="882.4" r="2.6"/>
<circle cx="1302.1" cy="876.6" r="2.6"/>
<circle cx="1303.3" cy="881.4" r="2.6"/>
<circle cx="1320.1" cy="875.4" r="2.6"/>
<circle cx="1142.7" cy="889.7" r="2.6"/>
<circle cx="1338.9" cy="891.9" r="2.6"/>
<circle cx="1367.6" cy="902.7" r="2.6"/>
<circle cx="1311.6" cy="913.5" r="2.6"/>
<circle cx="1340.2" cy="912.2" r="2.6"/>
<circle cx="1410.5" cy="929.1" r="2.6"/>
<circle cx="1217.7" cy="939.6" r="2.6"/>
<circle cx="1248.6" cy="945.6" r="2.6"/>
<circle cx="1311.6" cy="944.4" r="2.6"/>
<circle cx="1358.8" cy="792.0" r="3"/>
<circle cx="1141.7" cy="833.7" r="3"/>
<circle cx="1144.7" cy="833.7" r="3"/>
<circle cx="1224.5" cy="855.3" r="3"/>
<circle cx="1225.3" cy="878.9" r="3"/>
<circle cx="1227.8" cy="878.9" r="3"/>
<circle cx="1282.2" cy="877.9" r="3"/>
<circle cx="1284.7" cy="877.9" r="3"/>
<circle cx="1171.3" cy="889.7" r="3"/>
<circle cx="1169.6" cy="892.2" r="3"/>
<circle cx="1378.3" cy="911.7" r="3"/>
<circle cx="1148.7" cy="921.3" r="3"/>
<circle cx="1233.3" cy="938.8" r="3"/>
<circle cx="1151.5" cy="949.4" r="2.6"/>
<circle cx="1151.5" cy="957.7" r="2.6"/>
<circle cx="1151.2" cy="964.7" r="2.6"/>
<circle cx="1145.2" cy="974.0" r="2.6"/>
<circle cx="1166.8" cy="964.7" r="2.6"/>
<circle cx="1112.1" cy="974.0" r="2.6"/>
<circle cx="1116.9" cy="973.0" r="2.6"/>
<circle cx="1228.8" cy="967.0" r="2.6"/>
<circle cx="1235.6" cy="960.9" r="2.6"/>
<circle cx="1271.2" cy="959.7" r="2.6"/>
<circle cx="1247.4" cy="983.5" r="2.6"/>
<circle cx="1314.1" cy="969.2" r="2.6"/>
<circle cx="1400.9" cy="970.5" r="2.6"/>
<circle cx="1349.2" cy="992.0" r="2.6"/>
<circle cx="1351.0" cy="994.6" r="2.6"/>
<circle cx="1355.8" cy="990.8" r="2.6"/>
<circle cx="1360.5" cy="993.0" r="2.6"/>
<circle cx="1277.0" cy="999.1" r="2.6"/>
<circle cx="1230.8" cy="1007.4" r="2.6"/>
<circle cx="1351.0" cy="1008.6" r="2.6"/>
<circle cx="1272.4" cy="1016.9" r="2.6"/>
<circle cx="1305.6" cy="1016.9" r="2.6"/>
<circle cx="1322.4" cy="1016.9" r="2.6"/>
<circle cx="1199.9" cy="1017.9" r="2.6"/>
<circle cx="1217.7" cy="1026.4" r="2.6"/>
<circle cx="1220.3" cy="1029.9" r="2.6"/>
<circle cx="1282.0" cy="1037.0" r="2.6"/>
<circle cx="1102.1" cy="968.2" r="3"/>
<circle cx="1104.8" cy="968.2" r="3"/>
<circle cx="1151.7" cy="988.3" r="3"/>
<circle cx="1154.5" cy="988.3" r="3"/>
<circle cx="1323.9" cy="969.2" r="3"/>
<circle cx="1326.4" cy="969.2" r="3"/>
<circle cx="1356.5" cy="1010.9" r="3"/>
<circle cx="1404.4" cy="1024.7" r="3"/>
<circle cx="1404.4" cy="1028.4" r="3"/>
<path d="M1220.8 964.7L1227.8 964.7" fill="none" stroke="#95a92a" stroke-width="5" stroke-linecap="round" stroke-linejoin="round"/>
<path d="M1361.8 968.2L1366.3 968.2" fill="none" stroke="#95a92a" stroke-width="5" stroke-linecap="round" stroke-linejoin="round"/>
<path d="M1371.8 968.2L1379.6 968.2" fill="none" stroke="#95a92a" stroke-width="5" stroke-linecap="round" stroke-linejoin="round"/>
<circle cx="1291.5" cy="1072.6" r="2.6"/>
<circle cx="1304.3" cy="1073.9" r="2.6"/>
<circle cx="1268.7" cy="1079.9" r="2.6"/>
<circle cx="1309.3" cy="1085.6" r="2.6"/>
<circle cx="1337.9" cy="1083.4" r="2.6"/>
<circle cx="1384.4" cy="1070.3" r="2.6"/>
<circle cx="1387.9" cy="1079.9" r="2.6"/>
<circle cx="1321.4" cy="1079.9" r="3"/>
<circle cx="1324.1" cy="1079.9" r="3"/>
<circle cx="1414.0" cy="831.4" r="1.3"/>
<circle cx="1414.0" cy="834.0" r="1.3"/>
<circle cx="1414.0" cy="836.5" r="1.3"/>
<circle cx="1414.0" cy="883.4" r="1.3"/>
<path d="M1328.0 1111.8L1334.6 1118.3" fill="none" stroke="#95a92a" stroke-width="6" stroke-linecap="round" stroke-linejoin="round"/>
<circle cx="1340.2" cy="1120.2" r="2.6"/>
<circle cx="1342.1" cy="1124.0" r="2.6"/>
<circle cx="1345.9" cy="1124.9" r="2.6"/>
<circle cx="1348.7" cy="1124.0" r="2.6"/>
<circle cx="1351.9" cy="1121.2" r="2.6"/>
<circle cx="1344.9" cy="1127.8" r="2.6"/>
<circle cx="1349.6" cy="1129.6" r="2.6"/>
<circle cx="1354.3" cy="1128.7" r="2.6"/>
<circle cx="1354.3" cy="1132.5" r="2.6"/>
<circle cx="1359.0" cy="1133.8" r="2.6"/>
<circle cx="1364.3" cy="1136.2" r="2.6"/>
<circle cx="1369.4" cy="1139.1" r="2.6"/>
<circle cx="1361.9" cy="1120.2" r="2.6"/>
<circle cx="1360.9" cy="1123.1" r="2.6"/>
<circle cx="1361.9" cy="1127.2" r="2.6"/>
<path d="M1382.6 1141.3L1389.2 1143.2L1398.6 1151.3" fill="none" stroke="#95a92a" stroke-width="4.6" stroke-linecap="round" stroke-linejoin="round"/>
<circle cx="1407.0" cy="1152.2" r="4"/>
<circle cx="1409.9" cy="1155.0" r="2.6"/>
<path d="M1406.1 1153.2L1413.6 1157.9" fill="none" stroke="#95a92a" stroke-width="5" stroke-linecap="round" stroke-linejoin="round"/>
<circle cx="1414.0" cy="1147.9" r="3"/>
<circle cx="1414.0" cy="1141.9" r="1.6"/>
<path d="M235.3 152.8L238.8 156.9L246.3 163.8L252.0 168.8L255.1 175.1L258.9 183.2L261.4 188.9L264.5 193.9L267.6 200.2L271.4 205.8L275.8 211.5L278.3 217.8L280.8 225.3L283.3 232.8L285.8 240.3L288.3 247.2L291.5 252.3L295.2 256.6L298.4 261.7L302.1 267.3L305.3 273.0L310.3 280.5L314.1 286.8L317.2 293.0L319.1 294.9L323.5 296.8L326.6 300.6L329.7 306.2L332.9 313.1L336.0 319.4" fill="none" stroke="#95a92a" stroke-width="5.4" stroke-linecap="round" stroke-linejoin="round"/>
<circle cx="263.2" cy="182.0" r="2.6"/>
<circle cx="266.4" cy="184.5" r="2.6"/>
<circle cx="273.9" cy="201.4" r="2.6"/>
<circle cx="276.4" cy="204.0" r="2.6"/>
<circle cx="290.9" cy="246.6" r="2.6"/>
<circle cx="295.2" cy="253.5" r="2.6"/>
<circle cx="304.0" cy="264.8" r="2.6"/>
<circle cx="321.6" cy="293.7" r="2.6"/>
<circle cx="326.0" cy="297.4" r="2.6"/>
<circle cx="331.0" cy="305.0" r="2.6"/>
<path d="M338.8 323.8L343.8 330.7L348.2 335.1L350.1 341.4L352.0 347.6L355.8 353.3L358.9 358.9L362.7 364.0L365.8 370.2L370.2 375.9L374.0 382.1L376.5 386.5L379.0 392.8L381.5 397.8L385.9 402.2L389.6 409.1L393.4 415.4L396.5 418.5L400.3 421.7L403.4 426.1L407.8 428.6L412.8 431.1L416.6 434.2L419.1 439.2L422.9 444.9L425.4 450.5L426.6 456.8L428.5 463.1L432.3 469.3L436.1 474.4L439.8 479.4" fill="none" stroke="#95a92a" stroke-width="5.4" stroke-linecap="round" stroke-linejoin="round"/>
<circle cx="350.7" cy="333.2" r="2.6"/>
<circle cx="356.4" cy="337.0" r="2.6"/>
<circle cx="367.1" cy="357.7" r="2.6"/>
<circle cx="369.6" cy="360.8" r="2.6"/>
<circle cx="377.7" cy="383.4" r="2.6"/>
<circle cx="399.7" cy="416.6" r="2.6"/>
<circle cx="406.6" cy="421.7" r="2.6"/>
<circle cx="417.9" cy="431.7" r="2.6"/>
<circle cx="433.6" cy="468.1" r="2.6"/>
<path d="M440.1 481.3L443.8 488.9L447.6 495.8L452.0 502.0L457.0 508.3L460.2 514.0L463.9 518.3L470.2 520.2L474.0 522.7L477.7 527.8L482.7 530.9L485.2 534.0L489.6 536.5L495.3 540.3L501.6 546.6L507.8 552.8L512.8 557.9L516.6 561.6L519.7 567.9L523.5 573.6L526.6 577.3L529.8 583.0L532.9 585.5L537.9 588.0L541.7 591.7L544.2 596.8L546.7 599.9L553.0 603.7L556.1 608.7L560.5 613.7L565.5 617.5L570.6 620.6L576.8 623.7" fill="none" stroke="#95a92a" stroke-width="5.4" stroke-linecap="round" stroke-linejoin="round"/>
<path d="M437.6 476.3L447.0 493.9" fill="none" stroke="#95a92a" stroke-width="7.4" stroke-linecap="round" stroke-linejoin="round"/>
<circle cx="483.4" cy="528.4" r="2.6"/>
<circle cx="538.6" cy="581.7" r="2.6"/>
<circle cx="547.4" cy="596.8" r="2.6"/>
<path d="M577.6 625.1L583.8 631.4L588.9 633.9L594.5 635.8L600.2 639.5L604.9 644.9" fill="none" stroke="#95a92a" stroke-width="5.4" stroke-linecap="round" stroke-linejoin="round"/>
<circle cx="620.0" cy="645.9" r="2.6"/>
<circle cx="628.3" cy="647.2" r="2.6"/>
<path d="M643.8 648.3L657.9 662.1L670.4 672.8L724.4 726.7L735.7 739.3L745.7 747.4" fill="none" stroke="#95a92a" stroke-width="5.3" stroke-linecap="round" stroke-linejoin="round"/>
<path d="M741.3 746.3L747.5 750.7L752.5 756.3L758.8 761.3L764.5 763.2L769.5 767.0L772.0 773.2L776.4 776.4L782.7 777.6L786.4 782.7L790.8 786.4L795.2 791.4L800.2 796.5L804.6 800.2L809.0 805.2" fill="none" stroke="#95a92a" stroke-width="5.4" stroke-linecap="round" stroke-linejoin="round"/>
<path d="M815.3 808.4L819.7 812.5" fill="none" stroke="#95a92a" stroke-width="5.4" stroke-linecap="round" stroke-linejoin="round"/>
<path d="M827.8 813.4L830.3 817.8L835.4 822.2L841.6 823.4L846.6 827.8L849.8 833.5L852.3 838.5L856.1 842.9L861.7 846.6L868.0 852.3L874.9 854.8L880.5 857.3L886.2 860.5L888.7 863.6L895.0 866.7L900.6 870.5L907.5 874.9L911.9 879.9" fill="none" stroke="#95a92a" stroke-width="5.4" stroke-linecap="round" stroke-linejoin="round"/>
<circle cx="789.6" cy="781.4" r="2.6"/>
<circle cx="811.5" cy="802.1" r="2.6"/>
<circle cx="805.2" cy="799.0" r="2.6"/>
<circle cx="913.1" cy="879.3" r="2.6"/>
<circle cx="773.2" cy="769.5" r="3.6"/>
<circle cx="888.7" cy="861.1" r="4.2"/>
<path d="M911.9 880.7L918.8 883.8L924.5 886.9L927.6 893.2L933.2 895.1L938.9 900.1L946.4 904.5L952.7 906.4L957.7 910.2L960.9 913.9L965.2 915.8L969.6 921.4L974.0 925.2L979.0 927.1L986.6 929.0L991.6 934.0L997.9 939.6L1004.1 945.3" fill="none" stroke="#95a92a" stroke-width="5.4" stroke-linecap="round" stroke-linejoin="round"/>
<circle cx="1009.4" cy="947.2" r="2.6"/>
<circle cx="964.6" cy="906.4" r="2.6"/>
<circle cx="962.7" cy="908.6" r="2.6"/>
<circle cx="956.5" cy="899.1" r="3.8"/>
<path d="M1035.5 953.8L1041.8 957.8L1046.8 964.1L1053.1 967.2L1061.9 970.6" fill="none" stroke="#95a92a" stroke-width="5.4" stroke-linecap="round" stroke-linejoin="round"/>
<circle cx="1071.6" cy="971.6" r="2.6"/>
<circle cx="1077.5" cy="973.5" r="2.6"/>
<circle cx="1081.9" cy="975.6" r="2.6"/>
<circle cx="1087.0" cy="975.1" r="2.6"/>
<circle cx="1088.2" cy="979.2" r="2.6"/>
<circle cx="1090.7" cy="982.3" r="2.6"/>
<circle cx="1094.2" cy="977.7" r="2.6"/>
<circle cx="1097.0" cy="983.6" r="2.6"/>
<circle cx="1100.0" cy="986.7" r="2.6"/>
<circle cx="304.9" cy="16.0" r="4.2" fill="#7fa35a"/>
<circle cx="304.9" cy="18.3" r="4.7" fill="#a8a31e"/>
<circle cx="356.7" cy="17.5" r="3.6" fill="#8fa63a"/>
<circle cx="382.1" cy="18.5" r="3.3" fill="#a3a524"/>
<circle cx="409.4" cy="17.9" r="3.3" fill="#a3a524"/>
<circle cx="431.0" cy="18.3" r="3.3" fill="#a3a524"/>
<circle cx="304.9" cy="26.9" r="4.7" fill="#a8a31e"/>
<circle cx="409.4" cy="27.3" r="4.7" fill="#80a64c"/>
<circle cx="304.9" cy="36.4" r="4.2" fill="#7fa35a"/>
<circle cx="304.9" cy="40.1" r="4.7" fill="#a8a31e"/>
<circle cx="356.1" cy="41.6" r="3.4" fill="#9ea626"/>
<circle cx="263.1" cy="87.2" r="3.4" fill="#86a53c"/>
<circle cx="476.0" cy="17.9" r="3.4" fill="#8ba63a"/>
<circle cx="736.1" cy="17.9" r="3.8" fill="#a5a522"/>
<circle cx="747.0" cy="17.5" r="4.2" fill="#86a53c"/>
<circle cx="755.5" cy="17.9" r="3.8" fill="#a5a522"/>
<circle cx="756.4" cy="26.6" r="4.7" fill="#86a648"/>
<circle cx="773.2" cy="17.9" r="4.7" fill="#7fa64d"/>
<circle cx="872.9" cy="17.5" r="4.2" fill="#8ba63a"/>
<circle cx="955.7" cy="18.5" r="3.4" fill="#a3a524"/>
<circle cx="1086.4" cy="17.5" r="4.7" fill="#a3a524"/>
<circle cx="1086.4" cy="40.1" r="6.2" fill="#9fa526"/>
<circle cx="1380.2" cy="15.7" r="4.2" fill="#7fa35a"/>
<circle cx="1380.2" cy="19.4" r="3.8" fill="#a3a524"/>
<circle cx="1356.8" cy="184.4" r="6.4" fill="#b8a512"/>
<circle cx="452.3" cy="392.6" r="3.6" fill="#8ba63a"/>
<circle cx="456.1" cy="393.1" r="3.6" fill="#8ba63a"/>
<circle cx="956.0" cy="370.3" r="4.2" fill="#86a53c"/>
<circle cx="1177.1" cy="184.8" r="5" fill="#b0a418"/>
<circle cx="1177.3" cy="598.6" r="5" fill="#6e9f5a"/>
<circle cx="1356.8" cy="598.6" r="7" fill="#669a62"/>
<circle cx="1147.7" cy="681.7" r="4.2" fill="#86a645"/>
<circle cx="868.6" cy="852.8" r="3.4" fill="#86a53c"/>
<circle cx="1380.9" cy="897.9" r="6" fill="#b3a516"/>
<circle cx="1147.5" cy="952.6" r="4.5" fill="#a2a620"/>
<circle cx="1380.3" cy="1141.3" r="5.3" fill="#7fa64d"/>
<circle cx="304.9" cy="271.5" r="4.4" fill="#7fa650"/>
<circle cx="747.0" cy="747.4" r="4.7" fill="#a5a520"/>
<circle cx="868.6" cy="852.5" r="3.4" fill="#8fa63a"/>
</g>
<circle cx="1413.8" cy="18.4" r="15.7" fill="#e42c00"/>
<circle cx="1413.8" cy="37.8" r="16.2" fill="#0c4a4a"/>
<circle cx="1413.8" cy="39.7" r="15.9" fill="#e42c00"/>
</svg>
</body></html>
